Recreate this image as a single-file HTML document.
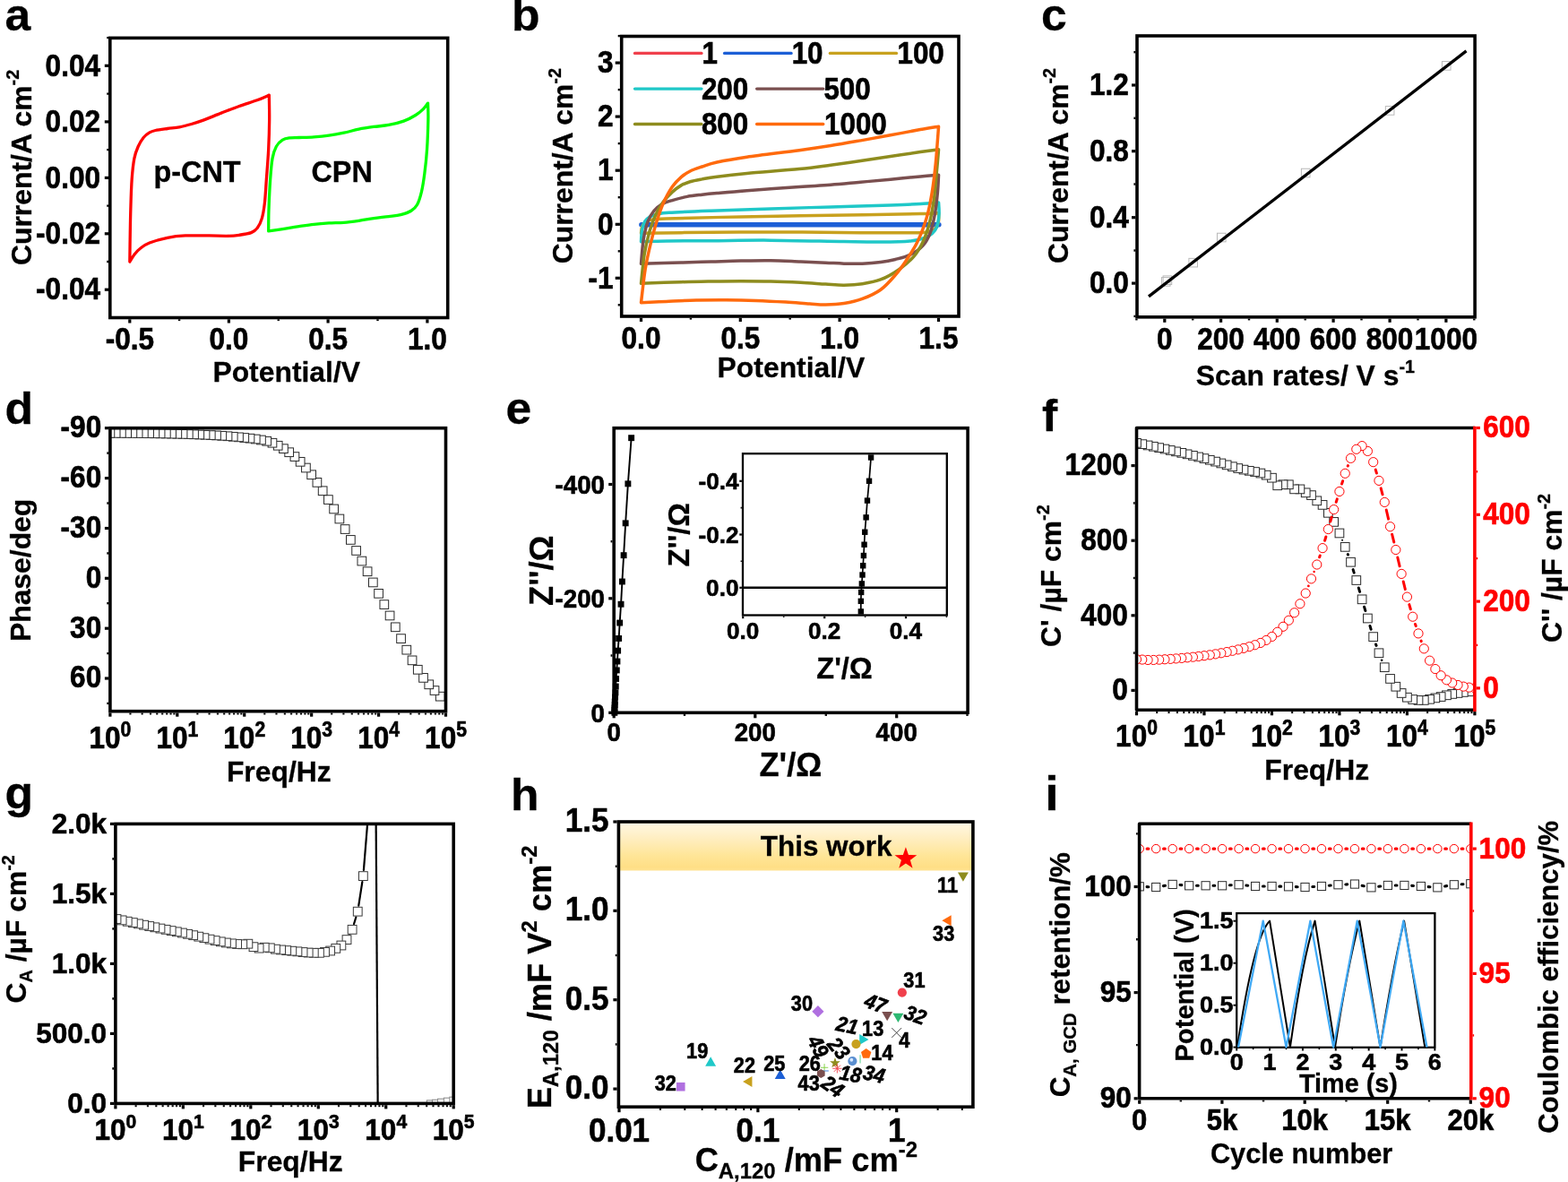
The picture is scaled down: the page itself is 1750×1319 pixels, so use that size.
<!DOCTYPE html>
<html><head><meta charset="utf-8"><title>Figure</title>
<style>html,body{margin:0;padding:0;background:#fff}svg{display:block}text{font-family:"Liberation Sans",Arial,sans-serif}</style>
</head><body>
<svg width="1750" height="1319" viewBox="0 0 1750 1319">
<rect width="1750" height="1319" fill="#fff"/>
<text transform="translate(5.5 34.2) scale(1.0 0.96)" font-size="51.62" text-anchor="start" fill="#000" stroke="#000" stroke-width="0.3" font-weight="bold" >a</text>
<path d="M144.83,292C144.89,287.83 145,276.7 145.17,266.97C145.33,257.24 145.5,244.72 145.83,233.6C146.17,222.48 146.5,209.68 147.17,200.23C147.84,190.77 148.67,182.99 149.84,176.87C151.01,170.75 152.45,167.41 154.18,163.52C155.9,159.63 158.07,156.12 160.18,153.51C162.3,150.89 164.63,149.17 166.86,147.84C169.08,146.5 170.19,146.22 173.53,145.5C176.87,144.78 182.43,144.11 186.88,143.5C191.33,142.89 195.78,142.66 200.23,141.83C204.68,140.99 209.13,139.77 213.58,138.49C218.03,137.21 221.36,136.21 226.93,134.15C232.49,132.1 240.27,128.76 246.95,126.14C253.62,123.53 260.3,120.86 266.97,118.47C273.65,116.08 281.43,113.85 286.99,111.79C292.56,109.74 298.12,107.07 300.34,106.12C300.4,110.68 300.79,123.36 300.68,133.49C300.57,143.61 300.23,155.73 299.68,166.86C299.12,177.98 298.06,190.22 297.34,200.23C296.62,210.24 296.17,219.7 295.34,226.93C294.5,234.16 293.67,239.05 292.33,243.61C291,248.17 289.33,251.62 287.33,254.29C285.33,256.96 283.71,258.29 280.32,259.63C276.93,260.96 271.42,261.69 266.97,262.3C262.52,262.91 259.18,263.19 253.62,263.3C248.06,263.41 241.39,263.02 233.6,262.97C225.81,262.91 214.69,262.58 206.9,262.97C199.12,263.36 193.55,263.97 186.88,265.3C180.21,266.64 171.86,269.03 166.86,270.98C161.85,272.92 159.63,274.87 156.85,276.98C154.06,279.1 152.17,281.15 150.17,283.66C148.17,286.16 145.72,290.61 144.83,292Z" fill="none" stroke="#ff0000" stroke-width="3.3" stroke-linejoin="round" stroke-linecap="round" />
<path d="M299.68,257.96C299.73,253.9 299.68,243.22 300.01,233.6C300.34,223.98 301.01,209.68 301.68,200.23C302.35,190.77 302.9,182.99 304.01,176.87C305.13,170.75 306.46,166.97 308.35,163.52C310.24,160.07 312.8,157.79 315.36,156.18C317.92,154.57 320.64,154.29 323.7,153.84C326.76,153.4 329.26,153.68 333.71,153.51C338.16,153.34 344.84,153.23 350.4,152.84C355.96,152.45 361.52,151.95 367.09,151.17C372.65,150.39 378.21,149.34 383.77,148.17C389.33,147 394.9,145.28 400.46,144.16C406.02,143.05 411.58,142.27 417.14,141.49C422.7,140.72 428.27,140.55 433.83,139.49C439.39,138.44 445.51,136.99 450.51,135.15C455.52,133.32 460.25,130.7 463.86,128.48C467.48,126.26 469.93,124.03 472.21,121.81C474.49,119.58 476.66,116.24 477.55,115.13C477.6,118.19 478.05,124.86 477.88,133.49C477.71,142.11 477.21,156.85 476.54,166.86C475.88,176.87 474.88,185.77 473.87,193.55C472.87,201.34 471.93,207.74 470.54,213.58C469.15,219.42 467.48,224.98 465.53,228.59C463.58,232.21 461.92,233.43 458.86,235.27C455.8,237.1 451.35,238.55 447.18,239.61C443.01,240.66 438.83,240.94 433.83,241.61C428.82,242.28 422.7,242.83 417.14,243.61C411.58,244.39 406.02,245.5 400.46,246.28C394.9,247.06 389.33,247.84 383.77,248.28C378.21,248.73 372.65,248.62 367.09,248.95C361.52,249.28 355.96,249.67 350.4,250.29C344.84,250.9 339.28,251.79 333.71,252.62C328.15,253.46 322.7,254.4 317.03,255.29C311.36,256.18 302.57,257.52 299.68,257.96Z" fill="none" stroke="#00ff00" stroke-width="3.3" stroke-linejoin="round" stroke-linecap="round" />
<rect x="122.8" y="42.4" width="376.9" height="312.1" fill="none" stroke="#000" stroke-width="3.6"/>
<line x1="121" y1="73.3" x2="116.8" y2="73.3" stroke="#000" stroke-width="3.2" />
<line x1="121" y1="135.9" x2="116.8" y2="135.9" stroke="#000" stroke-width="3.2" />
<line x1="121" y1="198.4" x2="116.8" y2="198.4" stroke="#000" stroke-width="3.2" />
<line x1="121" y1="260.8" x2="116.8" y2="260.8" stroke="#000" stroke-width="3.2" />
<line x1="121" y1="323.2" x2="116.8" y2="323.2" stroke="#000" stroke-width="3.2" />
<line x1="121" y1="104.6" x2="119.2" y2="104.6" stroke="#000" stroke-width="2.4" />
<line x1="121" y1="167.15" x2="119.2" y2="167.15" stroke="#000" stroke-width="2.4" />
<line x1="121" y1="229.6" x2="119.2" y2="229.6" stroke="#000" stroke-width="2.4" />
<line x1="121" y1="292" x2="119.2" y2="292" stroke="#000" stroke-width="2.4" />
<line x1="121" y1="42.1" x2="119.2" y2="42.1" stroke="#000" stroke-width="2.4" />
<line x1="144.8" y1="356.3" x2="144.8" y2="360.5" stroke="#000" stroke-width="3.2" />
<line x1="255.4" y1="356.3" x2="255.4" y2="360.5" stroke="#000" stroke-width="3.2" />
<line x1="366.1" y1="356.3" x2="366.1" y2="360.5" stroke="#000" stroke-width="3.2" />
<line x1="476.9" y1="356.3" x2="476.9" y2="360.5" stroke="#000" stroke-width="3.2" />
<line x1="200.1" y1="356.3" x2="200.1" y2="358.1" stroke="#000" stroke-width="2.4" />
<line x1="310.75" y1="356.3" x2="310.75" y2="358.1" stroke="#000" stroke-width="2.4" />
<line x1="421.5" y1="356.3" x2="421.5" y2="358.1" stroke="#000" stroke-width="2.4" />
<text transform="translate(112 84.5) scale(0.98 1.09)" font-size="32.19" text-anchor="end" fill="#000" stroke="#000" stroke-width="0.6" font-weight="bold" >0.04</text>
<text transform="translate(112 147.1) scale(0.98 1.09)" font-size="32.19" text-anchor="end" fill="#000" stroke="#000" stroke-width="0.6" font-weight="bold" >0.02</text>
<text transform="translate(112 209.6) scale(0.98 1.09)" font-size="32.19" text-anchor="end" fill="#000" stroke="#000" stroke-width="0.6" font-weight="bold" >0.00</text>
<text transform="translate(112 272) scale(0.98 1.09)" font-size="32.19" text-anchor="end" fill="#000" stroke="#000" stroke-width="0.6" font-weight="bold" >-0.02</text>
<text transform="translate(112 334.4) scale(0.98 1.09)" font-size="32.19" text-anchor="end" fill="#000" stroke="#000" stroke-width="0.6" font-weight="bold" >-0.04</text>
<text transform="translate(144.8 389.7) scale(0.98 1.09)" font-size="32.19" text-anchor="middle" fill="#000" stroke="#000" stroke-width="0.6" font-weight="bold" >-0.5</text>
<text transform="translate(255.4 389.7) scale(0.98 1.09)" font-size="32.19" text-anchor="middle" fill="#000" stroke="#000" stroke-width="0.6" font-weight="bold" >0.0</text>
<text transform="translate(366.1 389.7) scale(0.98 1.09)" font-size="32.19" text-anchor="middle" fill="#000" stroke="#000" stroke-width="0.6" font-weight="bold" >0.5</text>
<text transform="translate(476.9 389.7) scale(0.98 1.09)" font-size="32.19" text-anchor="middle" fill="#000" stroke="#000" stroke-width="0.6" font-weight="bold" >1.0</text>
<text transform="translate(319.7 425.5) scale(0.99 1.0)" font-size="32.19" text-anchor="middle" fill="#000" stroke="#000" stroke-width="0.3" font-weight="bold" >Potential/V</text>
<text transform="translate(34.6 186.9) rotate(-90) scale(0.99 1.0)" font-size="32.19" text-anchor="middle" fill="#000" stroke="#000" stroke-width="0.3" font-weight="bold" >Current/A cm<tspan font-size="19.96" dy="-13.52">-2</tspan><tspan dy="13.52" font-size="32.19">&#8203;</tspan></text>
<text transform="translate(220 202.6) scale(0.99 1.0)" font-size="32.75" text-anchor="middle" fill="#000" stroke="#000" stroke-width="0.3" font-weight="bold" >p-CNT</text>
<text transform="translate(381.6 202.6) scale(0.99 1.0)" font-size="32.75" text-anchor="middle" fill="#000" stroke="#000" stroke-width="0.3" font-weight="bold" >CPN</text>
<text transform="translate(571 34.2) scale(1.0 0.96)" font-size="51.62" text-anchor="start" fill="#000" stroke="#000" stroke-width="0.3" font-weight="bold" >b</text>
<line x1="708.5" y1="59.4" x2="782.92" y2="59.4" stroke="#f0404c" stroke-width="3.4" stroke-linecap="round"/>
<text transform="translate(783.59 70.8) scale(0.98 1.09)" font-size="31.97" text-anchor="start" fill="#000" stroke="#000" stroke-width="0.6" font-weight="bold" >1</text>
<line x1="808.62" y1="59.4" x2="883.04" y2="59.4" stroke="#1c5fd6" stroke-width="3.4" stroke-linecap="round"/>
<text transform="translate(883.7 70.8) scale(0.98 1.09)" font-size="31.97" text-anchor="start" fill="#000" stroke="#000" stroke-width="0.6" font-weight="bold" >10</text>
<line x1="926.42" y1="59.4" x2="1000.5" y2="59.4" stroke="#c8a11e" stroke-width="3.4" stroke-linecap="round"/>
<text transform="translate(1001.5 70.8) scale(0.98 1.09)" font-size="31.97" text-anchor="start" fill="#000" stroke="#000" stroke-width="0.6" font-weight="bold" >100</text>
<line x1="708.5" y1="99.1" x2="782.92" y2="99.1" stroke="#1fc8c8" stroke-width="3.4" stroke-linecap="round"/>
<text transform="translate(782.92 110.5) scale(0.98 1.09)" font-size="31.97" text-anchor="start" fill="#000" stroke="#000" stroke-width="0.6" font-weight="bold" >200</text>
<line x1="844.66" y1="99.1" x2="918.74" y2="99.1" stroke="#7a4f4f" stroke-width="3.4" stroke-linecap="round"/>
<text transform="translate(919.41 110.5) scale(0.98 1.09)" font-size="31.97" text-anchor="start" fill="#000" stroke="#000" stroke-width="0.6" font-weight="bold" >500</text>
<line x1="708.5" y1="138.5" x2="782.92" y2="138.5" stroke="#8e8c1e" stroke-width="3.4" stroke-linecap="round"/>
<text transform="translate(782.92 149.9) scale(0.98 1.09)" font-size="31.97" text-anchor="start" fill="#000" stroke="#000" stroke-width="0.6" font-weight="bold" >800</text>
<line x1="844.66" y1="138.5" x2="918.74" y2="138.5" stroke="#ff6a0d" stroke-width="3.4" stroke-linecap="round"/>
<text transform="translate(920.08 149.9) scale(0.98 1.09)" font-size="31.97" text-anchor="start" fill="#000" stroke="#000" stroke-width="0.6" font-weight="bold" >1000</text>
<line x1="715.51" y1="250.4" x2="1047.89" y2="250.4" stroke="#f0404c" stroke-width="2.6" />
<line x1="715.84" y1="250.7" x2="1047.89" y2="250.7" stroke="#1c5fd6" stroke-width="5.4" stroke-linecap="round"/>
<path d="M715.51,260.3C715.68,259.18 715.73,255.74 716.51,253.62C717.29,251.51 718.46,249.01 720.18,247.62C721.91,246.23 722.96,245.89 726.86,245.28C730.75,244.67 726.86,244.5 743.54,243.95C760.23,243.39 796.38,242.55 826.97,241.94C857.56,241.33 893.71,240.83 927.09,240.27C960.46,239.72 1007.12,239.05 1027.2,238.61C1047.28,238.16 1044.16,237.77 1047.56,237.6C1047.53,239.25 1048.1,244.47 1047.39,247.48C1046.68,250.49 1045.19,253.78 1043.32,255.66C1041.44,257.53 1040.07,258.04 1036.14,258.73C1032.22,259.41 1032.37,259.61 1019.76,259.76C1007.14,259.91 987.08,259.76 960.46,259.63C933.83,259.5 893.38,258.96 860.01,258.96C826.64,258.96 784.31,259.41 760.23,259.63C736.15,259.85 722.96,260.19 715.51,260.3Z" fill="none" stroke="#c8a11e" stroke-width="3.5" stroke-linejoin="round" stroke-linecap="round" />
<path d="M715.51,269.64C715.68,267.53 715.79,260.74 716.51,256.96C717.24,253.18 718.4,249.45 719.85,246.95C721.3,244.45 722.91,243.28 725.19,241.94C727.47,240.61 729.92,239.72 733.53,238.94C737.15,238.16 736.87,237.88 746.88,237.27C756.89,236.66 774.69,235.99 793.6,235.27C812.51,234.55 838.1,233.66 860.34,232.93C882.59,232.21 904.84,231.6 927.09,230.93C949.33,230.26 977.14,229.48 993.83,228.93C1010.51,228.37 1018.25,228.09 1027.2,227.59C1036.15,227.09 1044.16,226.2 1047.56,225.92C1047.63,228.15 1048.39,234.66 1048.02,239.27C1047.66,243.89 1046.66,250.04 1045.35,253.62C1044.05,257.2 1042.43,258.78 1040.21,260.76C1038,262.74 1036.13,264.13 1032.04,265.5C1027.95,266.87 1023.85,268.22 1015.65,268.97C1007.46,269.72 995.17,269.91 982.88,270.01C970.6,270.11 962.41,269.89 941.94,269.57C921.46,269.26 884.73,268.3 860.01,268.14C835.29,267.98 813.01,268.5 793.6,268.64C774.19,268.78 756.56,268.81 743.54,268.97C730.53,269.14 720.18,269.53 715.51,269.64Z" fill="none" stroke="#1fc8c8" stroke-width="3.5" stroke-linejoin="round" stroke-linecap="round" />
<path d="M715.51,294.34C715.96,289.78 716.9,274.87 718.18,266.97C719.46,259.07 721.24,252.23 723.19,246.95C725.13,241.66 727.3,238.44 729.86,235.27C732.42,232.1 735.14,229.88 738.54,227.93C741.93,225.97 745.5,224.98 750.22,223.56C754.94,222.13 761.31,220.44 766.87,219.38C772.43,218.33 777.99,217.85 783.56,217.21C789.12,216.58 791.9,216.3 800.24,215.55C808.58,214.8 818.32,213.88 833.61,212.71C848.91,211.54 876.43,209.62 892.01,208.54C907.59,207.46 915.68,207.12 927.09,206.24C938.49,205.35 949.33,204.23 960.46,203.23C971.58,202.23 982.7,201.29 993.83,200.23C1004.95,199.17 1018.25,197.73 1027.2,196.89C1036.15,196.06 1044.16,195.5 1047.56,195.22C1047.36,198.47 1047.09,207.37 1046.39,214.71C1045.68,222.05 1044.69,231.76 1043.32,239.27C1041.95,246.78 1040.4,253.96 1038.18,259.76C1035.96,265.56 1033.76,269.99 1030,274.08C1026.25,278.17 1020.78,281.76 1015.65,284.32C1010.53,286.89 1004.73,288.1 999.27,289.46C993.81,290.83 989.02,291.75 982.88,292.53C976.74,293.32 969.25,293.9 962.43,294.17C955.6,294.44 948.77,294.34 941.94,294.17C935.11,294 929.48,293.5 921.45,293.13C913.41,292.77 903.95,292.41 893.71,292C883.47,291.59 871.13,290.83 860.01,290.67C848.89,290.5 838.04,290.78 826.97,291C815.9,291.22 804.72,291.67 793.6,292C782.48,292.33 773.24,292.61 760.23,293C747.21,293.39 722.96,294.11 715.51,294.34Z" fill="none" stroke="#7a4f4f" stroke-width="3.5" stroke-linejoin="round" stroke-linecap="round" />
<path d="M715.51,316.36C716.12,310.91 717.62,293.28 719.18,283.66C720.74,274.04 722.8,265.86 724.85,258.63C726.91,251.4 728.97,245.84 731.53,240.27C734.09,234.71 737.1,229.57 740.21,225.26C743.31,220.94 746.85,217.44 750.18,214.38C753.52,211.31 756.86,208.82 760.2,206.87C763.53,204.92 766.31,203.87 770.21,202.7C774.1,201.53 778.55,200.78 783.56,199.86C788.56,198.94 791.9,198.25 800.24,197.19C808.58,196.14 818.32,194.97 833.61,193.52C848.91,192.07 876.43,190.07 892.01,188.52C907.59,186.96 915.68,185.71 927.09,184.21C938.49,182.71 949.33,181.15 960.46,179.54C971.58,177.93 982.7,176.2 993.83,174.53C1004.95,172.86 1018.25,170.81 1027.2,169.53C1036.15,168.25 1044.16,167.3 1047.56,166.86C1047.19,171.08 1046.23,182.85 1045.35,192.19C1044.48,201.52 1043.65,213.33 1042.28,222.89C1040.92,232.44 1039.22,241.66 1037.18,249.52C1035.13,257.37 1032.91,263.86 1030,270.01C1027.1,276.15 1024.2,281.28 1019.76,286.39C1015.32,291.51 1009.52,296.44 1003.37,300.71C997.23,304.98 989.71,309.33 982.88,311.99C976.06,314.65 969.25,315.67 962.43,316.69C955.6,317.72 948.77,318.06 941.94,318.13C935.11,318.2 929.48,317.56 921.45,317.1C913.41,316.63 903.95,315.87 893.71,315.36C883.47,314.85 871.13,314.3 860.01,314.03C848.89,313.75 838.04,313.69 826.97,313.69C815.9,313.69 804.72,313.86 793.6,314.03C782.48,314.19 773.24,314.3 760.23,314.69C747.21,315.08 722.96,316.08 715.51,316.36Z" fill="none" stroke="#8e8c1e" stroke-width="3.5" stroke-linejoin="round" stroke-linecap="round" />
<path d="M715.51,337.72C716.29,331.49 718.35,311.58 720.18,300.34C722.02,289.11 724.3,279.49 726.52,270.31C728.75,261.13 731.25,252.51 733.53,245.28C735.81,238.05 737.42,233.04 740.21,226.93C742.99,220.81 746.88,213.44 750.22,208.57C753.55,203.7 756.89,200.62 760.23,197.69C763.57,194.76 766.36,192.93 770.24,190.98C774.12,189.04 778.53,187.68 783.52,186.01C788.52,184.35 791.86,182.81 800.21,181.01C808.56,179.2 818.31,177.42 833.61,175.2C848.91,172.98 876.43,169.8 892.01,167.69C907.59,165.58 915.68,164.33 927.09,162.52C938.49,160.71 949.33,158.79 960.46,156.85C971.58,154.9 982.7,152.9 993.83,150.84C1004.95,148.78 1018.25,146.11 1027.2,144.5C1036.15,142.89 1044.16,141.72 1047.56,141.16C1047.02,147.95 1045.54,169.65 1044.32,181.91C1043.1,194.17 1041.92,204.47 1040.21,214.71C1038.51,224.95 1036.83,234.13 1034.11,243.34C1031.38,252.55 1027.63,262.12 1023.86,269.97C1020.1,277.83 1015.6,284.32 1011.52,290.46C1007.43,296.61 1004.1,301.39 999.33,306.85C994.57,312.31 989.1,318.8 982.95,323.24C976.8,327.67 969.29,330.92 962.46,333.48C955.63,336.04 948.8,337.5 941.97,338.59C935.14,339.68 927.85,339.94 921.48,340.02C915.11,340.1 911.13,339.55 903.73,339.05C896.32,338.56 887.04,337.66 877.03,337.05C867.02,336.44 854.78,335.77 843.66,335.38C832.53,334.99 821.41,334.77 810.29,334.72C799.16,334.66 788.04,334.77 776.91,335.05C765.79,335.33 753.78,335.94 743.54,336.38C733.31,336.83 720.18,337.5 715.51,337.72Z" fill="none" stroke="#ff6a0d" stroke-width="3.5" stroke-linejoin="round" stroke-linecap="round" />
<rect x="693.7" y="40.5" width="376.3" height="312.5" fill="none" stroke="#000" stroke-width="3.6"/>
<line x1="691.9" y1="70.1" x2="686.7" y2="70.1" stroke="#000" stroke-width="3.2" />
<line x1="691.9" y1="130.1" x2="686.7" y2="130.1" stroke="#000" stroke-width="3.2" />
<line x1="691.9" y1="190.2" x2="686.7" y2="190.2" stroke="#000" stroke-width="3.2" />
<line x1="691.9" y1="250.3" x2="686.7" y2="250.3" stroke="#000" stroke-width="3.2" />
<line x1="691.9" y1="310.3" x2="686.7" y2="310.3" stroke="#000" stroke-width="3.2" />
<line x1="691.9" y1="100.1" x2="689.7" y2="100.1" stroke="#000" stroke-width="2.4" />
<line x1="691.9" y1="160.1" x2="689.7" y2="160.1" stroke="#000" stroke-width="2.4" />
<line x1="691.9" y1="220.2" x2="689.7" y2="220.2" stroke="#000" stroke-width="2.4" />
<line x1="691.9" y1="280.3" x2="689.7" y2="280.3" stroke="#000" stroke-width="2.4" />
<line x1="691.9" y1="340.3" x2="689.7" y2="340.3" stroke="#000" stroke-width="2.4" />
<line x1="691.9" y1="40.1" x2="689.7" y2="40.1" stroke="#000" stroke-width="2.4" />
<line x1="715.5" y1="354.8" x2="715.5" y2="359" stroke="#000" stroke-width="3.2" />
<line x1="826.3" y1="354.8" x2="826.3" y2="359" stroke="#000" stroke-width="3.2" />
<line x1="937.1" y1="354.8" x2="937.1" y2="359" stroke="#000" stroke-width="3.2" />
<line x1="1047.5" y1="354.8" x2="1047.5" y2="359" stroke="#000" stroke-width="3.2" />
<line x1="770.9" y1="354.8" x2="770.9" y2="356.6" stroke="#000" stroke-width="2.4" />
<line x1="881.7" y1="354.8" x2="881.7" y2="356.6" stroke="#000" stroke-width="2.4" />
<line x1="992.3" y1="354.8" x2="992.3" y2="356.6" stroke="#000" stroke-width="2.4" />
<text transform="translate(684.5 81.3) scale(0.98 1.09)" font-size="32.19" text-anchor="end" fill="#000" stroke="#000" stroke-width="0.6" font-weight="bold" >3</text>
<text transform="translate(684.5 141.3) scale(0.98 1.09)" font-size="32.19" text-anchor="end" fill="#000" stroke="#000" stroke-width="0.6" font-weight="bold" >2</text>
<text transform="translate(684.5 201.4) scale(0.98 1.09)" font-size="32.19" text-anchor="end" fill="#000" stroke="#000" stroke-width="0.6" font-weight="bold" >1</text>
<text transform="translate(684.5 261.5) scale(0.98 1.09)" font-size="32.19" text-anchor="end" fill="#000" stroke="#000" stroke-width="0.6" font-weight="bold" >0</text>
<text transform="translate(684.5 321.5) scale(0.98 1.09)" font-size="32.19" text-anchor="end" fill="#000" stroke="#000" stroke-width="0.6" font-weight="bold" >-1</text>
<text transform="translate(715.5 388.7) scale(0.98 1.09)" font-size="32.19" text-anchor="middle" fill="#000" stroke="#000" stroke-width="0.6" font-weight="bold" >0.0</text>
<text transform="translate(826.3 388.7) scale(0.98 1.09)" font-size="32.19" text-anchor="middle" fill="#000" stroke="#000" stroke-width="0.6" font-weight="bold" >0.5</text>
<text transform="translate(937.1 388.7) scale(0.98 1.09)" font-size="32.19" text-anchor="middle" fill="#000" stroke="#000" stroke-width="0.6" font-weight="bold" >1.0</text>
<text transform="translate(1047.5 388.7) scale(0.98 1.09)" font-size="32.19" text-anchor="middle" fill="#000" stroke="#000" stroke-width="0.6" font-weight="bold" >1.5</text>
<text transform="translate(882.9 420.5) scale(0.99 1.0)" font-size="32.19" text-anchor="middle" fill="#000" stroke="#000" stroke-width="0.3" font-weight="bold" >Potential/V</text>
<text transform="translate(639.4 185.2) rotate(-90) scale(0.99 1.0)" font-size="32.19" text-anchor="middle" fill="#000" stroke="#000" stroke-width="0.3" font-weight="bold" >Current/A cm<tspan font-size="19.96" dy="-13.52">-2</tspan><tspan dy="13.52" font-size="32.19">&#8203;</tspan></text>
<text transform="translate(1162 34.2) scale(1.0 0.96)" font-size="51.62" text-anchor="start" fill="#000" stroke="#000" stroke-width="0.3" font-weight="bold" >c</text>
<rect x="1296.4" y="309.6" width="9.6" height="9.6" fill="none" stroke="#b8b8b8" stroke-width="1"/>
<rect x="1298.11" y="307.89" width="9.6" height="9.6" fill="none" stroke="#b8b8b8" stroke-width="1"/>
<rect x="1326.91" y="288.34" width="9.6" height="9.6" fill="none" stroke="#b8b8b8" stroke-width="1"/>
<rect x="1358.46" y="260.23" width="9.6" height="9.6" fill="none" stroke="#b8b8b8" stroke-width="1"/>
<rect x="1452.4" y="188.23" width="9.6" height="9.6" fill="none" stroke="#b8b8b8" stroke-width="1"/>
<rect x="1546.34" y="118.63" width="9.6" height="9.6" fill="none" stroke="#b8b8b8" stroke-width="1"/>
<rect x="1609.43" y="68.57" width="9.6" height="9.6" fill="none" stroke="#b8b8b8" stroke-width="1"/>
<line x1="1282" y1="330.86" x2="1636.51" y2="56.91" stroke="#000" stroke-width="3.3" />
<rect x="1269" y="40" width="377.1" height="313.8" fill="none" stroke="#000" stroke-width="3.6"/>
<line x1="1267.2" y1="95" x2="1263" y2="95" stroke="#000" stroke-width="3.2" />
<line x1="1267.2" y1="168.7" x2="1263" y2="168.7" stroke="#000" stroke-width="3.2" />
<line x1="1267.2" y1="242.7" x2="1263" y2="242.7" stroke="#000" stroke-width="3.2" />
<line x1="1267.2" y1="316.1" x2="1263" y2="316.1" stroke="#000" stroke-width="3.2" />
<line x1="1267.2" y1="131.8" x2="1265.4" y2="131.8" stroke="#000" stroke-width="2.4" />
<line x1="1267.2" y1="205.5" x2="1265.4" y2="205.5" stroke="#000" stroke-width="2.4" />
<line x1="1267.2" y1="279.5" x2="1265.4" y2="279.5" stroke="#000" stroke-width="2.4" />
<line x1="1267.2" y1="352.9" x2="1265.4" y2="352.9" stroke="#000" stroke-width="2.4" />
<line x1="1267.2" y1="58.2" x2="1265.4" y2="58.2" stroke="#000" stroke-width="2.4" />
<line x1="1299.8" y1="355.6" x2="1299.8" y2="359.8" stroke="#000" stroke-width="3.2" />
<line x1="1362.6" y1="355.6" x2="1362.6" y2="359.8" stroke="#000" stroke-width="3.2" />
<line x1="1425.3" y1="355.6" x2="1425.3" y2="359.8" stroke="#000" stroke-width="3.2" />
<line x1="1488.1" y1="355.6" x2="1488.1" y2="359.8" stroke="#000" stroke-width="3.2" />
<line x1="1551.1" y1="355.6" x2="1551.1" y2="359.8" stroke="#000" stroke-width="3.2" />
<line x1="1613.9" y1="355.6" x2="1613.9" y2="359.8" stroke="#000" stroke-width="3.2" />
<line x1="1331.2" y1="355.6" x2="1331.2" y2="357.4" stroke="#000" stroke-width="2.4" />
<line x1="1394" y1="355.6" x2="1394" y2="357.4" stroke="#000" stroke-width="2.4" />
<line x1="1456.7" y1="355.6" x2="1456.7" y2="357.4" stroke="#000" stroke-width="2.4" />
<line x1="1519.5" y1="355.6" x2="1519.5" y2="357.4" stroke="#000" stroke-width="2.4" />
<line x1="1582.5" y1="355.6" x2="1582.5" y2="357.4" stroke="#000" stroke-width="2.4" />
<line x1="1268.4" y1="355.6" x2="1268.4" y2="357.4" stroke="#000" stroke-width="2.4" />
<line x1="1645.3" y1="355.6" x2="1645.3" y2="357.4" stroke="#000" stroke-width="2.4" />
<text transform="translate(1259.8 106.2) scale(0.98 1.09)" font-size="32.19" text-anchor="end" fill="#000" stroke="#000" stroke-width="0.6" font-weight="bold" >1.2</text>
<text transform="translate(1259.8 179.9) scale(0.98 1.09)" font-size="32.19" text-anchor="end" fill="#000" stroke="#000" stroke-width="0.6" font-weight="bold" >0.8</text>
<text transform="translate(1259.8 253.9) scale(0.98 1.09)" font-size="32.19" text-anchor="end" fill="#000" stroke="#000" stroke-width="0.6" font-weight="bold" >0.4</text>
<text transform="translate(1259.8 327.3) scale(0.98 1.09)" font-size="32.19" text-anchor="end" fill="#000" stroke="#000" stroke-width="0.6" font-weight="bold" >0.0</text>
<text transform="translate(1299.8 389.5) scale(0.98 1.09)" font-size="32.19" text-anchor="middle" fill="#000" stroke="#000" stroke-width="0.6" font-weight="bold" >0</text>
<text transform="translate(1362.6 389.5) scale(0.98 1.09)" font-size="32.19" text-anchor="middle" fill="#000" stroke="#000" stroke-width="0.6" font-weight="bold" >200</text>
<text transform="translate(1425.3 389.5) scale(0.98 1.09)" font-size="32.19" text-anchor="middle" fill="#000" stroke="#000" stroke-width="0.6" font-weight="bold" >400</text>
<text transform="translate(1488.1 389.5) scale(0.98 1.09)" font-size="32.19" text-anchor="middle" fill="#000" stroke="#000" stroke-width="0.6" font-weight="bold" >600</text>
<text transform="translate(1551.1 389.5) scale(0.98 1.09)" font-size="32.19" text-anchor="middle" fill="#000" stroke="#000" stroke-width="0.6" font-weight="bold" >800</text>
<text transform="translate(1613.9 389.5) scale(0.98 1.09)" font-size="32.19" text-anchor="middle" fill="#000" stroke="#000" stroke-width="0.6" font-weight="bold" >1000</text>
<text transform="translate(1456.9 429.6) scale(0.99 1.0)" font-size="32.19" text-anchor="middle" fill="#000" stroke="#000" stroke-width="0.3" font-weight="bold" >Scan rates/ V s<tspan font-size="19.96" dy="-13.52">-1</tspan><tspan dy="13.52" font-size="32.19">&#8203;</tspan></text>
<text transform="translate(1191.8 185) rotate(-90) scale(0.99 1.0)" font-size="32.19" text-anchor="middle" fill="#000" stroke="#000" stroke-width="0.3" font-weight="bold" >Current/A cm<tspan font-size="19.96" dy="-13.52">-2</tspan><tspan dy="13.52" font-size="32.19">&#8203;</tspan></text>
<text transform="translate(5.5 473) scale(1.0 0.96)" font-size="51.62" text-anchor="start" fill="#000" stroke="#000" stroke-width="0.3" font-weight="bold" >d</text>
<clipPath id="cd"><rect x="122.9" y="477.7" width="374.6" height="316.00000000000006"/></clipPath><g clip-path="url(#cd)">
<rect x="486.41" y="772.31" width="9.7" height="9.7" fill="#fff" stroke="#2a2a2a" stroke-width="1"/>
<rect x="480.16" y="765.69" width="9.7" height="9.7" fill="#fff" stroke="#2a2a2a" stroke-width="1"/>
<rect x="473.92" y="758.96" width="9.7" height="9.7" fill="#fff" stroke="#2a2a2a" stroke-width="1"/>
<rect x="467.68" y="751.53" width="9.7" height="9.7" fill="#fff" stroke="#2a2a2a" stroke-width="1"/>
<rect x="461.43" y="742.43" width="9.7" height="9.7" fill="#fff" stroke="#2a2a2a" stroke-width="1"/>
<rect x="455.19" y="732.01" width="9.7" height="9.7" fill="#fff" stroke="#2a2a2a" stroke-width="1"/>
<rect x="448.95" y="720.32" width="9.7" height="9.7" fill="#fff" stroke="#2a2a2a" stroke-width="1"/>
<rect x="442.7" y="707.77" width="9.7" height="9.7" fill="#fff" stroke="#2a2a2a" stroke-width="1"/>
<rect x="436.46" y="694.96" width="9.7" height="9.7" fill="#fff" stroke="#2a2a2a" stroke-width="1"/>
<rect x="430.22" y="682.11" width="9.7" height="9.7" fill="#fff" stroke="#2a2a2a" stroke-width="1"/>
<rect x="423.97" y="669.74" width="9.7" height="9.7" fill="#fff" stroke="#2a2a2a" stroke-width="1"/>
<rect x="417.73" y="657.49" width="9.7" height="9.7" fill="#fff" stroke="#2a2a2a" stroke-width="1"/>
<rect x="411.49" y="645.09" width="9.7" height="9.7" fill="#fff" stroke="#2a2a2a" stroke-width="1"/>
<rect x="405.24" y="632.88" width="9.7" height="9.7" fill="#fff" stroke="#2a2a2a" stroke-width="1"/>
<rect x="399" y="621.21" width="9.7" height="9.7" fill="#fff" stroke="#2a2a2a" stroke-width="1"/>
<rect x="392.76" y="609.6" width="9.7" height="9.7" fill="#fff" stroke="#2a2a2a" stroke-width="1"/>
<rect x="386.51" y="597.58" width="9.7" height="9.7" fill="#fff" stroke="#2a2a2a" stroke-width="1"/>
<rect x="380.27" y="585.68" width="9.7" height="9.7" fill="#fff" stroke="#2a2a2a" stroke-width="1"/>
<rect x="374.03" y="574.15" width="9.7" height="9.7" fill="#fff" stroke="#2a2a2a" stroke-width="1"/>
<rect x="367.78" y="563.11" width="9.7" height="9.7" fill="#fff" stroke="#2a2a2a" stroke-width="1"/>
<rect x="361.54" y="552.72" width="9.7" height="9.7" fill="#fff" stroke="#2a2a2a" stroke-width="1"/>
<rect x="355.3" y="542.89" width="9.7" height="9.7" fill="#fff" stroke="#2a2a2a" stroke-width="1"/>
<rect x="349.05" y="533.51" width="9.7" height="9.7" fill="#fff" stroke="#2a2a2a" stroke-width="1"/>
<rect x="342.81" y="524.9" width="9.7" height="9.7" fill="#fff" stroke="#2a2a2a" stroke-width="1"/>
<rect x="336.57" y="517.18" width="9.7" height="9.7" fill="#fff" stroke="#2a2a2a" stroke-width="1"/>
<rect x="330.32" y="510.46" width="9.7" height="9.7" fill="#fff" stroke="#2a2a2a" stroke-width="1"/>
<rect x="324.08" y="504.72" width="9.7" height="9.7" fill="#fff" stroke="#2a2a2a" stroke-width="1"/>
<rect x="317.84" y="499.87" width="9.7" height="9.7" fill="#fff" stroke="#2a2a2a" stroke-width="1"/>
<rect x="311.59" y="495.81" width="9.7" height="9.7" fill="#fff" stroke="#2a2a2a" stroke-width="1"/>
<rect x="305.35" y="492.41" width="9.7" height="9.7" fill="#fff" stroke="#2a2a2a" stroke-width="1"/>
<rect x="299.11" y="489.39" width="9.7" height="9.7" fill="#fff" stroke="#2a2a2a" stroke-width="1"/>
<rect x="292.86" y="487.4" width="9.7" height="9.7" fill="#fff" stroke="#2a2a2a" stroke-width="1"/>
<rect x="286.62" y="486.14" width="9.7" height="9.7" fill="#fff" stroke="#2a2a2a" stroke-width="1"/>
<rect x="280.38" y="485.14" width="9.7" height="9.7" fill="#fff" stroke="#2a2a2a" stroke-width="1"/>
<rect x="274.13" y="484.33" width="9.7" height="9.7" fill="#fff" stroke="#2a2a2a" stroke-width="1"/>
<rect x="267.89" y="483.64" width="9.7" height="9.7" fill="#fff" stroke="#2a2a2a" stroke-width="1"/>
<rect x="261.65" y="483" width="9.7" height="9.7" fill="#fff" stroke="#2a2a2a" stroke-width="1"/>
<rect x="255.4" y="482.43" width="9.7" height="9.7" fill="#fff" stroke="#2a2a2a" stroke-width="1"/>
<rect x="249.16" y="481.91" width="9.7" height="9.7" fill="#fff" stroke="#2a2a2a" stroke-width="1"/>
<rect x="242.92" y="481.46" width="9.7" height="9.7" fill="#fff" stroke="#2a2a2a" stroke-width="1"/>
<rect x="236.67" y="481.08" width="9.7" height="9.7" fill="#fff" stroke="#2a2a2a" stroke-width="1"/>
<rect x="230.43" y="480.74" width="9.7" height="9.7" fill="#fff" stroke="#2a2a2a" stroke-width="1"/>
<rect x="224.19" y="480.44" width="9.7" height="9.7" fill="#fff" stroke="#2a2a2a" stroke-width="1"/>
<rect x="217.94" y="480.17" width="9.7" height="9.7" fill="#fff" stroke="#2a2a2a" stroke-width="1"/>
<rect x="211.7" y="479.93" width="9.7" height="9.7" fill="#fff" stroke="#2a2a2a" stroke-width="1"/>
<rect x="205.46" y="479.72" width="9.7" height="9.7" fill="#fff" stroke="#2a2a2a" stroke-width="1"/>
<rect x="199.21" y="479.54" width="9.7" height="9.7" fill="#fff" stroke="#2a2a2a" stroke-width="1"/>
<rect x="192.97" y="479.38" width="9.7" height="9.7" fill="#fff" stroke="#2a2a2a" stroke-width="1"/>
<rect x="186.73" y="479.24" width="9.7" height="9.7" fill="#fff" stroke="#2a2a2a" stroke-width="1"/>
<rect x="180.48" y="479.11" width="9.7" height="9.7" fill="#fff" stroke="#2a2a2a" stroke-width="1"/>
<rect x="174.24" y="479" width="9.7" height="9.7" fill="#fff" stroke="#2a2a2a" stroke-width="1"/>
<rect x="168" y="478.9" width="9.7" height="9.7" fill="#fff" stroke="#2a2a2a" stroke-width="1"/>
<rect x="161.75" y="478.83" width="9.7" height="9.7" fill="#fff" stroke="#2a2a2a" stroke-width="1"/>
<rect x="155.51" y="478.76" width="9.7" height="9.7" fill="#fff" stroke="#2a2a2a" stroke-width="1"/>
<rect x="149.27" y="478.69" width="9.7" height="9.7" fill="#fff" stroke="#2a2a2a" stroke-width="1"/>
<rect x="143.02" y="478.64" width="9.7" height="9.7" fill="#fff" stroke="#2a2a2a" stroke-width="1"/>
<rect x="136.78" y="478.59" width="9.7" height="9.7" fill="#fff" stroke="#2a2a2a" stroke-width="1"/>
<rect x="130.54" y="478.55" width="9.7" height="9.7" fill="#fff" stroke="#2a2a2a" stroke-width="1"/>
<rect x="124.29" y="478.54" width="9.7" height="9.7" fill="#fff" stroke="#2a2a2a" stroke-width="1"/>
<rect x="118.05" y="478.54" width="9.7" height="9.7" fill="#fff" stroke="#2a2a2a" stroke-width="1"/>
</g>
<rect x="122.9" y="477.7" width="374.6" height="316" fill="none" stroke="#000" stroke-width="3.6"/>
<line x1="121.1" y1="477.7" x2="116.9" y2="477.7" stroke="#000" stroke-width="3.2" />
<line x1="121.1" y1="533.6" x2="116.9" y2="533.6" stroke="#000" stroke-width="3.2" />
<line x1="121.1" y1="589.5" x2="116.9" y2="589.5" stroke="#000" stroke-width="3.2" />
<line x1="121.1" y1="645.3" x2="116.9" y2="645.3" stroke="#000" stroke-width="3.2" />
<line x1="121.1" y1="701.2" x2="116.9" y2="701.2" stroke="#000" stroke-width="3.2" />
<line x1="121.1" y1="757" x2="116.9" y2="757" stroke="#000" stroke-width="3.2" />
<line x1="121.1" y1="505.6" x2="119.3" y2="505.6" stroke="#000" stroke-width="2.4" />
<line x1="121.1" y1="561.5" x2="119.3" y2="561.5" stroke="#000" stroke-width="2.4" />
<line x1="121.1" y1="617.4" x2="119.3" y2="617.4" stroke="#000" stroke-width="2.4" />
<line x1="121.1" y1="673.2" x2="119.3" y2="673.2" stroke="#000" stroke-width="2.4" />
<line x1="121.1" y1="729.1" x2="119.3" y2="729.1" stroke="#000" stroke-width="2.4" />
<line x1="121.1" y1="784.9" x2="119.3" y2="784.9" stroke="#000" stroke-width="2.4" />
<line x1="122.9" y1="795.5" x2="122.9" y2="799.7" stroke="#000" stroke-width="3.2" />
<line x1="197.82" y1="795.5" x2="197.82" y2="799.7" stroke="#000" stroke-width="3.2" />
<line x1="272.74" y1="795.5" x2="272.74" y2="799.7" stroke="#000" stroke-width="3.2" />
<line x1="347.66" y1="795.5" x2="347.66" y2="799.7" stroke="#000" stroke-width="3.2" />
<line x1="422.58" y1="795.5" x2="422.58" y2="799.7" stroke="#000" stroke-width="3.2" />
<line x1="497.5" y1="795.5" x2="497.5" y2="799.7" stroke="#000" stroke-width="3.2" />
<line x1="145.45" y1="795.5" x2="145.45" y2="797.5" stroke="#000" stroke-width="2.1" />
<line x1="158.65" y1="795.5" x2="158.65" y2="797.5" stroke="#000" stroke-width="2.1" />
<line x1="168.01" y1="795.5" x2="168.01" y2="797.5" stroke="#000" stroke-width="2.1" />
<line x1="175.27" y1="795.5" x2="175.27" y2="797.5" stroke="#000" stroke-width="2.1" />
<line x1="181.2" y1="795.5" x2="181.2" y2="797.5" stroke="#000" stroke-width="2.1" />
<line x1="186.21" y1="795.5" x2="186.21" y2="797.5" stroke="#000" stroke-width="2.1" />
<line x1="190.56" y1="795.5" x2="190.56" y2="797.5" stroke="#000" stroke-width="2.1" />
<line x1="194.39" y1="795.5" x2="194.39" y2="797.5" stroke="#000" stroke-width="2.1" />
<line x1="220.37" y1="795.5" x2="220.37" y2="797.5" stroke="#000" stroke-width="2.1" />
<line x1="233.57" y1="795.5" x2="233.57" y2="797.5" stroke="#000" stroke-width="2.1" />
<line x1="242.93" y1="795.5" x2="242.93" y2="797.5" stroke="#000" stroke-width="2.1" />
<line x1="250.19" y1="795.5" x2="250.19" y2="797.5" stroke="#000" stroke-width="2.1" />
<line x1="256.12" y1="795.5" x2="256.12" y2="797.5" stroke="#000" stroke-width="2.1" />
<line x1="261.13" y1="795.5" x2="261.13" y2="797.5" stroke="#000" stroke-width="2.1" />
<line x1="265.48" y1="795.5" x2="265.48" y2="797.5" stroke="#000" stroke-width="2.1" />
<line x1="269.31" y1="795.5" x2="269.31" y2="797.5" stroke="#000" stroke-width="2.1" />
<line x1="295.29" y1="795.5" x2="295.29" y2="797.5" stroke="#000" stroke-width="2.1" />
<line x1="308.49" y1="795.5" x2="308.49" y2="797.5" stroke="#000" stroke-width="2.1" />
<line x1="317.85" y1="795.5" x2="317.85" y2="797.5" stroke="#000" stroke-width="2.1" />
<line x1="325.11" y1="795.5" x2="325.11" y2="797.5" stroke="#000" stroke-width="2.1" />
<line x1="331.04" y1="795.5" x2="331.04" y2="797.5" stroke="#000" stroke-width="2.1" />
<line x1="336.05" y1="795.5" x2="336.05" y2="797.5" stroke="#000" stroke-width="2.1" />
<line x1="340.4" y1="795.5" x2="340.4" y2="797.5" stroke="#000" stroke-width="2.1" />
<line x1="344.23" y1="795.5" x2="344.23" y2="797.5" stroke="#000" stroke-width="2.1" />
<line x1="370.21" y1="795.5" x2="370.21" y2="797.5" stroke="#000" stroke-width="2.1" />
<line x1="383.41" y1="795.5" x2="383.41" y2="797.5" stroke="#000" stroke-width="2.1" />
<line x1="392.77" y1="795.5" x2="392.77" y2="797.5" stroke="#000" stroke-width="2.1" />
<line x1="400.03" y1="795.5" x2="400.03" y2="797.5" stroke="#000" stroke-width="2.1" />
<line x1="405.96" y1="795.5" x2="405.96" y2="797.5" stroke="#000" stroke-width="2.1" />
<line x1="410.97" y1="795.5" x2="410.97" y2="797.5" stroke="#000" stroke-width="2.1" />
<line x1="415.32" y1="795.5" x2="415.32" y2="797.5" stroke="#000" stroke-width="2.1" />
<line x1="419.15" y1="795.5" x2="419.15" y2="797.5" stroke="#000" stroke-width="2.1" />
<line x1="445.13" y1="795.5" x2="445.13" y2="797.5" stroke="#000" stroke-width="2.1" />
<line x1="458.33" y1="795.5" x2="458.33" y2="797.5" stroke="#000" stroke-width="2.1" />
<line x1="467.69" y1="795.5" x2="467.69" y2="797.5" stroke="#000" stroke-width="2.1" />
<line x1="474.95" y1="795.5" x2="474.95" y2="797.5" stroke="#000" stroke-width="2.1" />
<line x1="480.88" y1="795.5" x2="480.88" y2="797.5" stroke="#000" stroke-width="2.1" />
<line x1="485.89" y1="795.5" x2="485.89" y2="797.5" stroke="#000" stroke-width="2.1" />
<line x1="490.24" y1="795.5" x2="490.24" y2="797.5" stroke="#000" stroke-width="2.1" />
<line x1="494.07" y1="795.5" x2="494.07" y2="797.5" stroke="#000" stroke-width="2.1" />
<text transform="translate(113.2 488.1) scale(0.98 1.09)" font-size="32.19" text-anchor="end" fill="#000" stroke="#000" stroke-width="0.6" font-weight="bold" >-90</text>
<text transform="translate(113.2 544) scale(0.98 1.09)" font-size="32.19" text-anchor="end" fill="#000" stroke="#000" stroke-width="0.6" font-weight="bold" >-60</text>
<text transform="translate(113.2 599.9) scale(0.98 1.09)" font-size="32.19" text-anchor="end" fill="#000" stroke="#000" stroke-width="0.6" font-weight="bold" >-30</text>
<text transform="translate(113.2 655.7) scale(0.98 1.09)" font-size="32.19" text-anchor="end" fill="#000" stroke="#000" stroke-width="0.6" font-weight="bold" >0</text>
<text transform="translate(113.2 711.6) scale(0.98 1.09)" font-size="32.19" text-anchor="end" fill="#000" stroke="#000" stroke-width="0.6" font-weight="bold" >30</text>
<text transform="translate(113.2 767.4) scale(0.98 1.09)" font-size="32.19" text-anchor="end" fill="#000" stroke="#000" stroke-width="0.6" font-weight="bold" >60</text>
<text transform="translate(122.9 835.2) scale(0.98 1.09)" font-size="32.19" text-anchor="middle" fill="#000" stroke="#000" stroke-width="0.6" font-weight="bold" >10<tspan font-size="21.57" dy="-12.47">0</tspan><tspan dy="12.47" font-size="32.19">&#8203;</tspan></text>
<text transform="translate(197.82 835.2) scale(0.98 1.09)" font-size="32.19" text-anchor="middle" fill="#000" stroke="#000" stroke-width="0.6" font-weight="bold" >10<tspan font-size="21.57" dy="-12.47">1</tspan><tspan dy="12.47" font-size="32.19">&#8203;</tspan></text>
<text transform="translate(272.74 835.2) scale(0.98 1.09)" font-size="32.19" text-anchor="middle" fill="#000" stroke="#000" stroke-width="0.6" font-weight="bold" >10<tspan font-size="21.57" dy="-12.47">2</tspan><tspan dy="12.47" font-size="32.19">&#8203;</tspan></text>
<text transform="translate(347.66 835.2) scale(0.98 1.09)" font-size="32.19" text-anchor="middle" fill="#000" stroke="#000" stroke-width="0.6" font-weight="bold" >10<tspan font-size="21.57" dy="-12.47">3</tspan><tspan dy="12.47" font-size="32.19">&#8203;</tspan></text>
<text transform="translate(422.58 835.2) scale(0.98 1.09)" font-size="32.19" text-anchor="middle" fill="#000" stroke="#000" stroke-width="0.6" font-weight="bold" >10<tspan font-size="21.57" dy="-12.47">4</tspan><tspan dy="12.47" font-size="32.19">&#8203;</tspan></text>
<text transform="translate(497.5 835.2) scale(0.98 1.09)" font-size="32.19" text-anchor="middle" fill="#000" stroke="#000" stroke-width="0.6" font-weight="bold" >10<tspan font-size="21.57" dy="-12.47">5</tspan><tspan dy="12.47" font-size="32.19">&#8203;</tspan></text>
<text transform="translate(311.3 871.8) scale(0.99 1.0)" font-size="32.19" text-anchor="middle" fill="#000" stroke="#000" stroke-width="0.3" font-weight="bold" >Freq/Hz</text>
<text transform="translate(34.1 636.4) rotate(-90) scale(0.99 1.0)" font-size="32.19" text-anchor="middle" fill="#000" stroke="#000" stroke-width="0.3" font-weight="bold" >Phase/deg</text>
<text transform="translate(564.5 473) scale(1.0 0.96)" font-size="51.62" text-anchor="start" fill="#000" stroke="#000" stroke-width="0.3" font-weight="bold" >e</text>
<path d="M704.64,488.67L700.88,539.84L698.15,583.85L696.11,619.66L694.4,649L693.04,674.24L691.67,695.05L690.65,712.45L689.63,726.09L688.94,738.03L688.26,747.93L687.58,757.48L687.24,766L686.9,772.83L686.56,777.94L686.21,783.06L686.21,786.47L685.87,789.88L685.87,792.61L685.87,795.34" fill="none" stroke="#000" stroke-width="1.9" stroke-linejoin="round" />
<rect x="701.19" y="485.22" width="6.9" height="6.9" fill="#000" stroke="none" stroke-width="0"/>
<rect x="697.43" y="536.39" width="6.9" height="6.9" fill="#000" stroke="none" stroke-width="0"/>
<rect x="694.7" y="580.4" width="6.9" height="6.9" fill="#000" stroke="none" stroke-width="0"/>
<rect x="692.66" y="616.21" width="6.9" height="6.9" fill="#000" stroke="none" stroke-width="0"/>
<rect x="690.95" y="645.55" width="6.9" height="6.9" fill="#000" stroke="none" stroke-width="0"/>
<rect x="689.59" y="670.79" width="6.9" height="6.9" fill="#000" stroke="none" stroke-width="0"/>
<rect x="688.22" y="691.6" width="6.9" height="6.9" fill="#000" stroke="none" stroke-width="0"/>
<rect x="687.2" y="709" width="6.9" height="6.9" fill="#000" stroke="none" stroke-width="0"/>
<rect x="686.18" y="722.64" width="6.9" height="6.9" fill="#000" stroke="none" stroke-width="0"/>
<rect x="685.49" y="734.58" width="6.9" height="6.9" fill="#000" stroke="none" stroke-width="0"/>
<rect x="684.81" y="744.48" width="6.9" height="6.9" fill="#000" stroke="none" stroke-width="0"/>
<rect x="684.13" y="754.03" width="6.9" height="6.9" fill="#000" stroke="none" stroke-width="0"/>
<rect x="683.79" y="762.55" width="6.9" height="6.9" fill="#000" stroke="none" stroke-width="0"/>
<rect x="683.45" y="769.38" width="6.9" height="6.9" fill="#000" stroke="none" stroke-width="0"/>
<rect x="683.11" y="774.49" width="6.9" height="6.9" fill="#000" stroke="none" stroke-width="0"/>
<rect x="682.76" y="779.61" width="6.9" height="6.9" fill="#000" stroke="none" stroke-width="0"/>
<rect x="682.76" y="783.02" width="6.9" height="6.9" fill="#000" stroke="none" stroke-width="0"/>
<rect x="682.42" y="786.43" width="6.9" height="6.9" fill="#000" stroke="none" stroke-width="0"/>
<rect x="682.42" y="789.16" width="6.9" height="6.9" fill="#000" stroke="none" stroke-width="0"/>
<rect x="682.42" y="791.89" width="6.9" height="6.9" fill="#000" stroke="none" stroke-width="0"/>
<rect x="685.2" y="477.7" width="394.9" height="317.6" fill="none" stroke="#000" stroke-width="3.6"/>
<line x1="683.4" y1="540.5" x2="679.2" y2="540.5" stroke="#000" stroke-width="3.2" />
<line x1="683.4" y1="667.8" x2="679.2" y2="667.8" stroke="#000" stroke-width="3.2" />
<line x1="683.4" y1="795.3" x2="679.2" y2="795.3" stroke="#000" stroke-width="3.2" />
<line x1="683.4" y1="604.2" x2="681.6" y2="604.2" stroke="#000" stroke-width="2.4" />
<line x1="683.4" y1="731.5" x2="681.6" y2="731.5" stroke="#000" stroke-width="2.4" />
<line x1="685.2" y1="797.1" x2="685.2" y2="801.3" stroke="#000" stroke-width="3.2" />
<line x1="842.8" y1="797.1" x2="842.8" y2="801.3" stroke="#000" stroke-width="3.2" />
<line x1="1000.7" y1="797.1" x2="1000.7" y2="801.3" stroke="#000" stroke-width="3.2" />
<line x1="764" y1="797.1" x2="764" y2="798.9" stroke="#000" stroke-width="2.4" />
<line x1="921.8" y1="797.1" x2="921.8" y2="798.9" stroke="#000" stroke-width="2.4" />
<line x1="1079.5" y1="797.1" x2="1079.5" y2="798.9" stroke="#000" stroke-width="2.4" />
<text transform="translate(675 551.1) scale(0.98 1.02)" font-size="28.31" text-anchor="end" fill="#000" stroke="#000" stroke-width="0.6" font-weight="bold" >-400</text>
<text transform="translate(675 678.4) scale(0.98 1.02)" font-size="28.31" text-anchor="end" fill="#000" stroke="#000" stroke-width="0.6" font-weight="bold" >-200</text>
<text transform="translate(675 805.9) scale(0.98 1.02)" font-size="28.31" text-anchor="end" fill="#000" stroke="#000" stroke-width="0.6" font-weight="bold" >0</text>
<text transform="translate(685.2 827.1) scale(0.98 1.02)" font-size="28.31" text-anchor="middle" fill="#000" stroke="#000" stroke-width="0.6" font-weight="bold" >0</text>
<text transform="translate(842.8 827.1) scale(0.98 1.02)" font-size="28.31" text-anchor="middle" fill="#000" stroke="#000" stroke-width="0.6" font-weight="bold" >200</text>
<text transform="translate(1000.7 827.1) scale(0.98 1.02)" font-size="28.31" text-anchor="middle" fill="#000" stroke="#000" stroke-width="0.6" font-weight="bold" >400</text>
<text transform="translate(882.4 866) scale(0.99 1.0)" font-size="36.63" text-anchor="middle" fill="#000" stroke="#000" stroke-width="0.3" font-weight="bold" >Z'/&#937;</text>
<text transform="translate(617.3 636.7) rotate(-90) scale(0.99 1.0)" font-size="36.63" text-anchor="middle" fill="#000" stroke="#000" stroke-width="0.3" font-weight="bold" >Z''/&#937;</text>
<rect x="829" y="506.2" width="227.8" height="180.3" fill="none" stroke="#000" stroke-width="2.3"/>
<line x1="829" y1="655.8" x2="1056.8" y2="655.8" stroke="#000" stroke-width="2.4" />
<path d="M960.82,682.43L960.82,670.83L961.16,660.94L961.84,651.39L962.52,641.5L963.21,631.26L963.89,620L964.57,607.72L965.25,593.74L966.62,577.36L967.98,558.6L970.03,536.77L972.07,510.5" fill="none" stroke="#000" stroke-width="1.7" stroke-linejoin="round" />
<rect x="957.62" y="679.23" width="6.4" height="6.4" fill="#000" stroke="none" stroke-width="0"/>
<rect x="957.62" y="667.63" width="6.4" height="6.4" fill="#000" stroke="none" stroke-width="0"/>
<rect x="957.96" y="657.74" width="6.4" height="6.4" fill="#000" stroke="none" stroke-width="0"/>
<rect x="958.64" y="648.19" width="6.4" height="6.4" fill="#000" stroke="none" stroke-width="0"/>
<rect x="959.32" y="638.3" width="6.4" height="6.4" fill="#000" stroke="none" stroke-width="0"/>
<rect x="960.01" y="628.06" width="6.4" height="6.4" fill="#000" stroke="none" stroke-width="0"/>
<rect x="960.69" y="616.8" width="6.4" height="6.4" fill="#000" stroke="none" stroke-width="0"/>
<rect x="961.37" y="604.52" width="6.4" height="6.4" fill="#000" stroke="none" stroke-width="0"/>
<rect x="962.05" y="590.54" width="6.4" height="6.4" fill="#000" stroke="none" stroke-width="0"/>
<rect x="963.42" y="574.16" width="6.4" height="6.4" fill="#000" stroke="none" stroke-width="0"/>
<rect x="964.78" y="555.4" width="6.4" height="6.4" fill="#000" stroke="none" stroke-width="0"/>
<rect x="966.83" y="533.57" width="6.4" height="6.4" fill="#000" stroke="none" stroke-width="0"/>
<rect x="968.87" y="507.3" width="6.4" height="6.4" fill="#000" stroke="none" stroke-width="0"/>
<line x1="827.9" y1="536.8" x2="825.3" y2="536.8" stroke="#000" stroke-width="2.2" />
<line x1="827.9" y1="596.5" x2="825.3" y2="596.5" stroke="#000" stroke-width="2.2" />
<line x1="827.9" y1="655.8" x2="825.3" y2="655.8" stroke="#000" stroke-width="2.2" />
<line x1="827.9" y1="566.6" x2="826.6" y2="566.6" stroke="#000" stroke-width="1.6" />
<line x1="827.9" y1="626.2" x2="826.6" y2="626.2" stroke="#000" stroke-width="1.6" />
<line x1="829.2" y1="687.6" x2="829.2" y2="690.2" stroke="#000" stroke-width="2.2" />
<line x1="920.2" y1="687.6" x2="920.2" y2="690.2" stroke="#000" stroke-width="2.2" />
<line x1="1011" y1="687.6" x2="1011" y2="690.2" stroke="#000" stroke-width="2.2" />
<line x1="874.7" y1="687.6" x2="874.7" y2="688.9" stroke="#000" stroke-width="1.6" />
<line x1="965.6" y1="687.6" x2="965.6" y2="688.9" stroke="#000" stroke-width="1.6" />
<line x1="1056.4" y1="687.6" x2="1056.4" y2="688.9" stroke="#000" stroke-width="1.6" />
<text transform="translate(824.4 545.8) scale(0.98 1.0)" font-size="26.64" text-anchor="end" fill="#000" stroke="#000" stroke-width="0.6" font-weight="bold" >-0.4</text>
<text transform="translate(824.4 605.5) scale(0.98 1.0)" font-size="26.64" text-anchor="end" fill="#000" stroke="#000" stroke-width="0.6" font-weight="bold" >-0.2</text>
<text transform="translate(824.4 664.8) scale(0.98 1.0)" font-size="26.64" text-anchor="end" fill="#000" stroke="#000" stroke-width="0.6" font-weight="bold" >0.0</text>
<text transform="translate(829.2 713.3) scale(0.98 1.0)" font-size="26.64" text-anchor="middle" fill="#000" stroke="#000" stroke-width="0.6" font-weight="bold" >0.0</text>
<text transform="translate(920.2 713.3) scale(0.98 1.0)" font-size="26.64" text-anchor="middle" fill="#000" stroke="#000" stroke-width="0.6" font-weight="bold" >0.2</text>
<text transform="translate(1011 713.3) scale(0.98 1.0)" font-size="26.64" text-anchor="middle" fill="#000" stroke="#000" stroke-width="0.6" font-weight="bold" >0.4</text>
<text transform="translate(942.6 756.5) scale(0.99 1.0)" font-size="32.75" text-anchor="middle" fill="#000" stroke="#000" stroke-width="0.3" font-weight="bold" >Z'/&#937;</text>
<text transform="translate(769.1 596.8) rotate(-90) scale(0.99 1.0)" font-size="33.3" text-anchor="middle" fill="#000" stroke="#000" stroke-width="0.3" font-weight="bold" >Z''/&#937;</text>
<text transform="translate(1163 481.4) scale(1.0 0.96)" font-size="51.62" text-anchor="start" fill="#000" stroke="#000" stroke-width="0.3" font-weight="bold" >f</text>
<clipPath id="cf"><rect x="1268.5" y="477.5" width="377.4000000000001" height="314.79999999999995"/></clipPath><g clip-path="url(#cf)">
<path d="M1536.09,720.43L1535.56,718.93M1530.11,702.2L1528.96,698.42M1523.89,681.57L1522.6,677.25M1517.61,660.38L1516.3,655.94M1511.2,639.1L1510.13,635.66M1504.45,619.01L1504.3,618.62" fill="none" stroke="#000" stroke-width="3" stroke-linecap="round"/>
<circle cx="1542.12" cy="736.73" r="1.28" fill="#000"/>
<circle cx="1498.09" cy="602.67" r="1.02" fill="#000"/>
<rect x="1641.05" y="766.2" width="9.7" height="9.7" fill="#fff" stroke="#2a2a2a" stroke-width="1"/>
<rect x="1634.76" y="766.9" width="9.7" height="9.7" fill="#fff" stroke="#2a2a2a" stroke-width="1"/>
<rect x="1628.47" y="767.59" width="9.7" height="9.7" fill="#fff" stroke="#2a2a2a" stroke-width="1"/>
<rect x="1622.18" y="768.62" width="9.7" height="9.7" fill="#fff" stroke="#2a2a2a" stroke-width="1"/>
<rect x="1615.89" y="769.6" width="9.7" height="9.7" fill="#fff" stroke="#2a2a2a" stroke-width="1"/>
<rect x="1609.6" y="770.95" width="9.7" height="9.7" fill="#fff" stroke="#2a2a2a" stroke-width="1"/>
<rect x="1603.31" y="772.7" width="9.7" height="9.7" fill="#fff" stroke="#2a2a2a" stroke-width="1"/>
<rect x="1597.02" y="774.04" width="9.7" height="9.7" fill="#fff" stroke="#2a2a2a" stroke-width="1"/>
<rect x="1590.73" y="775.44" width="9.7" height="9.7" fill="#fff" stroke="#2a2a2a" stroke-width="1"/>
<rect x="1584.44" y="776.57" width="9.7" height="9.7" fill="#fff" stroke="#2a2a2a" stroke-width="1"/>
<rect x="1578.15" y="776.58" width="9.7" height="9.7" fill="#fff" stroke="#2a2a2a" stroke-width="1"/>
<rect x="1571.86" y="775.67" width="9.7" height="9.7" fill="#fff" stroke="#2a2a2a" stroke-width="1"/>
<rect x="1565.57" y="773.36" width="9.7" height="9.7" fill="#fff" stroke="#2a2a2a" stroke-width="1"/>
<rect x="1559.28" y="768.63" width="9.7" height="9.7" fill="#fff" stroke="#2a2a2a" stroke-width="1"/>
<rect x="1552.99" y="761.38" width="9.7" height="9.7" fill="#fff" stroke="#2a2a2a" stroke-width="1"/>
<rect x="1546.7" y="752.57" width="9.7" height="9.7" fill="#fff" stroke="#2a2a2a" stroke-width="1"/>
<rect x="1540.41" y="739.86" width="9.7" height="9.7" fill="#fff" stroke="#2a2a2a" stroke-width="1"/>
<rect x="1534.12" y="723.9" width="9.7" height="9.7" fill="#fff" stroke="#2a2a2a" stroke-width="1"/>
<rect x="1527.83" y="705.77" width="9.7" height="9.7" fill="#fff" stroke="#2a2a2a" stroke-width="1"/>
<rect x="1521.54" y="685.16" width="9.7" height="9.7" fill="#fff" stroke="#2a2a2a" stroke-width="1"/>
<rect x="1515.25" y="663.97" width="9.7" height="9.7" fill="#fff" stroke="#2a2a2a" stroke-width="1"/>
<rect x="1508.96" y="642.65" width="9.7" height="9.7" fill="#fff" stroke="#2a2a2a" stroke-width="1"/>
<rect x="1502.67" y="622.4" width="9.7" height="9.7" fill="#fff" stroke="#2a2a2a" stroke-width="1"/>
<rect x="1496.38" y="605.52" width="9.7" height="9.7" fill="#fff" stroke="#2a2a2a" stroke-width="1"/>
<rect x="1490.09" y="590.12" width="9.7" height="9.7" fill="#fff" stroke="#2a2a2a" stroke-width="1"/>
<rect x="1483.8" y="577.56" width="9.7" height="9.7" fill="#fff" stroke="#2a2a2a" stroke-width="1"/>
<rect x="1477.51" y="567.45" width="9.7" height="9.7" fill="#fff" stroke="#2a2a2a" stroke-width="1"/>
<rect x="1471.22" y="558.55" width="9.7" height="9.7" fill="#fff" stroke="#2a2a2a" stroke-width="1"/>
<rect x="1464.93" y="553.97" width="9.7" height="9.7" fill="#fff" stroke="#2a2a2a" stroke-width="1"/>
<rect x="1458.64" y="547.76" width="9.7" height="9.7" fill="#fff" stroke="#2a2a2a" stroke-width="1"/>
<rect x="1452.35" y="544.96" width="9.7" height="9.7" fill="#fff" stroke="#2a2a2a" stroke-width="1"/>
<rect x="1446.06" y="541.04" width="9.7" height="9.7" fill="#fff" stroke="#2a2a2a" stroke-width="1"/>
<rect x="1439.77" y="541.02" width="9.7" height="9.7" fill="#fff" stroke="#2a2a2a" stroke-width="1"/>
<rect x="1433.48" y="535.93" width="9.7" height="9.7" fill="#fff" stroke="#2a2a2a" stroke-width="1"/>
<rect x="1427.19" y="535.89" width="9.7" height="9.7" fill="#fff" stroke="#2a2a2a" stroke-width="1"/>
<rect x="1420.9" y="536.92" width="9.7" height="9.7" fill="#fff" stroke="#2a2a2a" stroke-width="1"/>
<rect x="1414.61" y="528.34" width="9.7" height="9.7" fill="#fff" stroke="#2a2a2a" stroke-width="1"/>
<rect x="1408.32" y="525.31" width="9.7" height="9.7" fill="#fff" stroke="#2a2a2a" stroke-width="1"/>
<rect x="1402.03" y="523.2" width="9.7" height="9.7" fill="#fff" stroke="#2a2a2a" stroke-width="1"/>
<rect x="1395.74" y="521.69" width="9.7" height="9.7" fill="#fff" stroke="#2a2a2a" stroke-width="1"/>
<rect x="1389.45" y="520.48" width="9.7" height="9.7" fill="#fff" stroke="#2a2a2a" stroke-width="1"/>
<rect x="1383.16" y="519.25" width="9.7" height="9.7" fill="#fff" stroke="#2a2a2a" stroke-width="1"/>
<rect x="1376.87" y="517.71" width="9.7" height="9.7" fill="#fff" stroke="#2a2a2a" stroke-width="1"/>
<rect x="1370.58" y="515.87" width="9.7" height="9.7" fill="#fff" stroke="#2a2a2a" stroke-width="1"/>
<rect x="1364.29" y="514" width="9.7" height="9.7" fill="#fff" stroke="#2a2a2a" stroke-width="1"/>
<rect x="1358" y="512.11" width="9.7" height="9.7" fill="#fff" stroke="#2a2a2a" stroke-width="1"/>
<rect x="1351.71" y="510.25" width="9.7" height="9.7" fill="#fff" stroke="#2a2a2a" stroke-width="1"/>
<rect x="1345.42" y="508.44" width="9.7" height="9.7" fill="#fff" stroke="#2a2a2a" stroke-width="1"/>
<rect x="1339.13" y="506.73" width="9.7" height="9.7" fill="#fff" stroke="#2a2a2a" stroke-width="1"/>
<rect x="1332.84" y="505.1" width="9.7" height="9.7" fill="#fff" stroke="#2a2a2a" stroke-width="1"/>
<rect x="1326.55" y="503.52" width="9.7" height="9.7" fill="#fff" stroke="#2a2a2a" stroke-width="1"/>
<rect x="1320.26" y="501.99" width="9.7" height="9.7" fill="#fff" stroke="#2a2a2a" stroke-width="1"/>
<rect x="1313.97" y="500.49" width="9.7" height="9.7" fill="#fff" stroke="#2a2a2a" stroke-width="1"/>
<rect x="1307.68" y="499.03" width="9.7" height="9.7" fill="#fff" stroke="#2a2a2a" stroke-width="1"/>
<rect x="1301.39" y="497.59" width="9.7" height="9.7" fill="#fff" stroke="#2a2a2a" stroke-width="1"/>
<rect x="1295.1" y="496.18" width="9.7" height="9.7" fill="#fff" stroke="#2a2a2a" stroke-width="1"/>
<rect x="1288.81" y="494.78" width="9.7" height="9.7" fill="#fff" stroke="#2a2a2a" stroke-width="1"/>
<rect x="1282.52" y="493.42" width="9.7" height="9.7" fill="#fff" stroke="#2a2a2a" stroke-width="1"/>
<rect x="1276.23" y="492.09" width="9.7" height="9.7" fill="#fff" stroke="#2a2a2a" stroke-width="1"/>
<rect x="1269.94" y="490.79" width="9.7" height="9.7" fill="#fff" stroke="#2a2a2a" stroke-width="1"/>
<rect x="1263.65" y="489.51" width="9.7" height="9.7" fill="#fff" stroke="#2a2a2a" stroke-width="1"/>
<path d="M1586.23,715.59L1586.06,715.15M1580.19,698.56L1579.52,696.54M1574.3,679.73L1572.83,674.57M1568.33,657.56L1566.22,648.96M1562.13,631.84L1559.84,622.08M1555.76,604.96L1553.63,596.26M1549.57,579.13L1547.24,569.01M1543.03,551.92L1541.2,544.88M1536.41,527.95L1535.24,524.07M1504.46,519.61L1504.29,520.06M1498.61,536.71L1497.56,540.07M1492.32,556.87L1491.27,560.2M1486.22,577.06L1484.79,582.08M1479.85,598.97L1478.58,603.2M1473.22,619.96L1472.63,621.71" fill="none" stroke="#f00" stroke-width="3" stroke-linecap="round"/>
<circle cx="1466.63" cy="637.95" r="1.22" fill="#f00"/>
<circle cx="1460.35" cy="653.96" r="1.38" fill="#f00"/>
<circle cx="1645.9" cy="767.78" r="5.1" fill="#fff" stroke="#f00" stroke-width="1"/>
<circle cx="1639.61" cy="767.12" r="5.1" fill="#fff" stroke="#f00" stroke-width="1"/>
<circle cx="1633.32" cy="766.12" r="5.1" fill="#fff" stroke="#f00" stroke-width="1"/>
<circle cx="1627.03" cy="764.43" r="5.1" fill="#fff" stroke="#f00" stroke-width="1"/>
<circle cx="1620.74" cy="762.04" r="5.1" fill="#fff" stroke="#f00" stroke-width="1"/>
<circle cx="1614.45" cy="758.81" r="5.1" fill="#fff" stroke="#f00" stroke-width="1"/>
<circle cx="1608.16" cy="753.74" r="5.1" fill="#fff" stroke="#f00" stroke-width="1"/>
<circle cx="1601.87" cy="746.54" r="5.1" fill="#fff" stroke="#f00" stroke-width="1"/>
<circle cx="1595.58" cy="737.15" r="5.1" fill="#fff" stroke="#f00" stroke-width="1"/>
<circle cx="1589.29" cy="723.84" r="5.1" fill="#fff" stroke="#f00" stroke-width="1"/>
<circle cx="1583" cy="706.9" r="5.1" fill="#fff" stroke="#f00" stroke-width="1"/>
<circle cx="1576.71" cy="688.2" r="5.1" fill="#fff" stroke="#f00" stroke-width="1"/>
<circle cx="1570.42" cy="666.11" r="5.1" fill="#fff" stroke="#f00" stroke-width="1"/>
<circle cx="1564.13" cy="640.41" r="5.1" fill="#fff" stroke="#f00" stroke-width="1"/>
<circle cx="1557.84" cy="613.51" r="5.1" fill="#fff" stroke="#f00" stroke-width="1"/>
<circle cx="1551.55" cy="587.71" r="5.1" fill="#fff" stroke="#f00" stroke-width="1"/>
<circle cx="1545.26" cy="560.43" r="5.1" fill="#fff" stroke="#f00" stroke-width="1"/>
<circle cx="1538.97" cy="536.37" r="5.1" fill="#fff" stroke="#f00" stroke-width="1"/>
<circle cx="1532.68" cy="515.65" r="5.1" fill="#fff" stroke="#f00" stroke-width="1"/>
<circle cx="1526.39" cy="503.44" r="5.1" fill="#fff" stroke="#f00" stroke-width="1"/>
<circle cx="1520.1" cy="497.6" r="5.1" fill="#fff" stroke="#f00" stroke-width="1"/>
<circle cx="1513.81" cy="501.29" r="5.1" fill="#fff" stroke="#f00" stroke-width="1"/>
<circle cx="1507.52" cy="511.36" r="5.1" fill="#fff" stroke="#f00" stroke-width="1"/>
<circle cx="1501.23" cy="528.31" r="5.1" fill="#fff" stroke="#f00" stroke-width="1"/>
<circle cx="1494.94" cy="548.47" r="5.1" fill="#fff" stroke="#f00" stroke-width="1"/>
<circle cx="1488.65" cy="568.6" r="5.1" fill="#fff" stroke="#f00" stroke-width="1"/>
<circle cx="1482.36" cy="590.54" r="5.1" fill="#fff" stroke="#f00" stroke-width="1"/>
<circle cx="1476.07" cy="611.63" r="5.1" fill="#fff" stroke="#f00" stroke-width="1"/>
<circle cx="1469.78" cy="630.03" r="5.1" fill="#fff" stroke="#f00" stroke-width="1"/>
<circle cx="1463.49" cy="645.87" r="5.1" fill="#fff" stroke="#f00" stroke-width="1"/>
<circle cx="1457.2" cy="662.05" r="5.1" fill="#fff" stroke="#f00" stroke-width="1"/>
<circle cx="1450.91" cy="673.73" r="5.1" fill="#fff" stroke="#f00" stroke-width="1"/>
<circle cx="1444.62" cy="683.75" r="5.1" fill="#fff" stroke="#f00" stroke-width="1"/>
<circle cx="1438.33" cy="692.23" r="5.1" fill="#fff" stroke="#f00" stroke-width="1"/>
<circle cx="1432.04" cy="699.27" r="5.1" fill="#fff" stroke="#f00" stroke-width="1"/>
<circle cx="1425.75" cy="705.23" r="5.1" fill="#fff" stroke="#f00" stroke-width="1"/>
<circle cx="1419.46" cy="710.47" r="5.1" fill="#fff" stroke="#f00" stroke-width="1"/>
<circle cx="1413.17" cy="714.4" r="5.1" fill="#fff" stroke="#f00" stroke-width="1"/>
<circle cx="1406.88" cy="717.42" r="5.1" fill="#fff" stroke="#f00" stroke-width="1"/>
<circle cx="1400.59" cy="719.72" r="5.1" fill="#fff" stroke="#f00" stroke-width="1"/>
<circle cx="1394.3" cy="721.68" r="5.1" fill="#fff" stroke="#f00" stroke-width="1"/>
<circle cx="1388.01" cy="723.36" r="5.1" fill="#fff" stroke="#f00" stroke-width="1"/>
<circle cx="1381.72" cy="724.87" r="5.1" fill="#fff" stroke="#f00" stroke-width="1"/>
<circle cx="1375.43" cy="726.27" r="5.1" fill="#fff" stroke="#f00" stroke-width="1"/>
<circle cx="1369.14" cy="727.58" r="5.1" fill="#fff" stroke="#f00" stroke-width="1"/>
<circle cx="1362.85" cy="728.79" r="5.1" fill="#fff" stroke="#f00" stroke-width="1"/>
<circle cx="1356.56" cy="729.89" r="5.1" fill="#fff" stroke="#f00" stroke-width="1"/>
<circle cx="1350.27" cy="730.87" r="5.1" fill="#fff" stroke="#f00" stroke-width="1"/>
<circle cx="1343.98" cy="731.72" r="5.1" fill="#fff" stroke="#f00" stroke-width="1"/>
<circle cx="1337.69" cy="732.48" r="5.1" fill="#fff" stroke="#f00" stroke-width="1"/>
<circle cx="1331.4" cy="733.18" r="5.1" fill="#fff" stroke="#f00" stroke-width="1"/>
<circle cx="1325.11" cy="733.82" r="5.1" fill="#fff" stroke="#f00" stroke-width="1"/>
<circle cx="1318.82" cy="734.4" r="5.1" fill="#fff" stroke="#f00" stroke-width="1"/>
<circle cx="1312.53" cy="734.91" r="5.1" fill="#fff" stroke="#f00" stroke-width="1"/>
<circle cx="1306.24" cy="735.36" r="5.1" fill="#fff" stroke="#f00" stroke-width="1"/>
<circle cx="1299.95" cy="735.77" r="5.1" fill="#fff" stroke="#f00" stroke-width="1"/>
<circle cx="1293.66" cy="736.16" r="5.1" fill="#fff" stroke="#f00" stroke-width="1"/>
<circle cx="1287.37" cy="736.45" r="5.1" fill="#fff" stroke="#f00" stroke-width="1"/>
<circle cx="1281.08" cy="736.45" r="5.1" fill="#fff" stroke="#f00" stroke-width="1"/>
<circle cx="1274.79" cy="736.07" r="5.1" fill="#fff" stroke="#f00" stroke-width="1"/>
<circle cx="1268.5" cy="735.81" r="5.1" fill="#fff" stroke="#f00" stroke-width="1"/>
</g>
<path d="M1645.9,477.5L1268.5,477.5L1268.5,792.3L1645.9,792.3" fill="none" stroke="#000" stroke-width="3.6" stroke-linejoin="round" />
<line x1="1645.9" y1="475.7" x2="1645.9" y2="794.1" stroke="#f00" stroke-width="3.6" />
<line x1="1266.7" y1="519.6" x2="1262.5" y2="519.6" stroke="#000" stroke-width="3.2" />
<line x1="1266.7" y1="603.2" x2="1262.5" y2="603.2" stroke="#000" stroke-width="3.2" />
<line x1="1266.7" y1="686.8" x2="1262.5" y2="686.8" stroke="#000" stroke-width="3.2" />
<line x1="1266.7" y1="770.4" x2="1262.5" y2="770.4" stroke="#000" stroke-width="3.2" />
<line x1="1266.7" y1="561.4" x2="1264.9" y2="561.4" stroke="#000" stroke-width="2.4" />
<line x1="1266.7" y1="645" x2="1264.9" y2="645" stroke="#000" stroke-width="2.4" />
<line x1="1266.7" y1="728.6" x2="1264.9" y2="728.6" stroke="#000" stroke-width="2.4" />
<line x1="1647.7" y1="477.5" x2="1651.9" y2="477.5" stroke="#f00" stroke-width="3.2" />
<line x1="1647.7" y1="574.3" x2="1651.9" y2="574.3" stroke="#f00" stroke-width="3.2" />
<line x1="1647.7" y1="671.1" x2="1651.9" y2="671.1" stroke="#f00" stroke-width="3.2" />
<line x1="1647.7" y1="767.9" x2="1651.9" y2="767.9" stroke="#f00" stroke-width="3.2" />
<line x1="1647.7" y1="526.3" x2="1649.2" y2="526.3" stroke="#f00" stroke-width="2.4" />
<line x1="1647.7" y1="623.1" x2="1649.2" y2="623.1" stroke="#f00" stroke-width="2.4" />
<line x1="1647.7" y1="719.9" x2="1649.2" y2="719.9" stroke="#f00" stroke-width="2.4" />
<line x1="1268.5" y1="794.1" x2="1268.5" y2="798.3" stroke="#000" stroke-width="3.2" />
<line x1="1343.98" y1="794.1" x2="1343.98" y2="798.3" stroke="#000" stroke-width="3.2" />
<line x1="1419.46" y1="794.1" x2="1419.46" y2="798.3" stroke="#000" stroke-width="3.2" />
<line x1="1494.94" y1="794.1" x2="1494.94" y2="798.3" stroke="#000" stroke-width="3.2" />
<line x1="1570.42" y1="794.1" x2="1570.42" y2="798.3" stroke="#000" stroke-width="3.2" />
<line x1="1645.9" y1="794.1" x2="1645.9" y2="798.3" stroke="#000" stroke-width="3.2" />
<line x1="1291.22" y1="794.1" x2="1291.22" y2="796.1" stroke="#000" stroke-width="2.1" />
<line x1="1304.51" y1="794.1" x2="1304.51" y2="796.1" stroke="#000" stroke-width="2.1" />
<line x1="1313.94" y1="794.1" x2="1313.94" y2="796.1" stroke="#000" stroke-width="2.1" />
<line x1="1321.26" y1="794.1" x2="1321.26" y2="796.1" stroke="#000" stroke-width="2.1" />
<line x1="1327.23" y1="794.1" x2="1327.23" y2="796.1" stroke="#000" stroke-width="2.1" />
<line x1="1332.29" y1="794.1" x2="1332.29" y2="796.1" stroke="#000" stroke-width="2.1" />
<line x1="1336.67" y1="794.1" x2="1336.67" y2="796.1" stroke="#000" stroke-width="2.1" />
<line x1="1340.53" y1="794.1" x2="1340.53" y2="796.1" stroke="#000" stroke-width="2.1" />
<line x1="1366.7" y1="794.1" x2="1366.7" y2="796.1" stroke="#000" stroke-width="2.1" />
<line x1="1379.99" y1="794.1" x2="1379.99" y2="796.1" stroke="#000" stroke-width="2.1" />
<line x1="1389.42" y1="794.1" x2="1389.42" y2="796.1" stroke="#000" stroke-width="2.1" />
<line x1="1396.74" y1="794.1" x2="1396.74" y2="796.1" stroke="#000" stroke-width="2.1" />
<line x1="1402.71" y1="794.1" x2="1402.71" y2="796.1" stroke="#000" stroke-width="2.1" />
<line x1="1407.77" y1="794.1" x2="1407.77" y2="796.1" stroke="#000" stroke-width="2.1" />
<line x1="1412.15" y1="794.1" x2="1412.15" y2="796.1" stroke="#000" stroke-width="2.1" />
<line x1="1416.01" y1="794.1" x2="1416.01" y2="796.1" stroke="#000" stroke-width="2.1" />
<line x1="1442.18" y1="794.1" x2="1442.18" y2="796.1" stroke="#000" stroke-width="2.1" />
<line x1="1455.47" y1="794.1" x2="1455.47" y2="796.1" stroke="#000" stroke-width="2.1" />
<line x1="1464.9" y1="794.1" x2="1464.9" y2="796.1" stroke="#000" stroke-width="2.1" />
<line x1="1472.22" y1="794.1" x2="1472.22" y2="796.1" stroke="#000" stroke-width="2.1" />
<line x1="1478.19" y1="794.1" x2="1478.19" y2="796.1" stroke="#000" stroke-width="2.1" />
<line x1="1483.25" y1="794.1" x2="1483.25" y2="796.1" stroke="#000" stroke-width="2.1" />
<line x1="1487.63" y1="794.1" x2="1487.63" y2="796.1" stroke="#000" stroke-width="2.1" />
<line x1="1491.49" y1="794.1" x2="1491.49" y2="796.1" stroke="#000" stroke-width="2.1" />
<line x1="1517.66" y1="794.1" x2="1517.66" y2="796.1" stroke="#000" stroke-width="2.1" />
<line x1="1530.95" y1="794.1" x2="1530.95" y2="796.1" stroke="#000" stroke-width="2.1" />
<line x1="1540.38" y1="794.1" x2="1540.38" y2="796.1" stroke="#000" stroke-width="2.1" />
<line x1="1547.7" y1="794.1" x2="1547.7" y2="796.1" stroke="#000" stroke-width="2.1" />
<line x1="1553.67" y1="794.1" x2="1553.67" y2="796.1" stroke="#000" stroke-width="2.1" />
<line x1="1558.73" y1="794.1" x2="1558.73" y2="796.1" stroke="#000" stroke-width="2.1" />
<line x1="1563.11" y1="794.1" x2="1563.11" y2="796.1" stroke="#000" stroke-width="2.1" />
<line x1="1566.97" y1="794.1" x2="1566.97" y2="796.1" stroke="#000" stroke-width="2.1" />
<line x1="1593.14" y1="794.1" x2="1593.14" y2="796.1" stroke="#000" stroke-width="2.1" />
<line x1="1606.43" y1="794.1" x2="1606.43" y2="796.1" stroke="#000" stroke-width="2.1" />
<line x1="1615.86" y1="794.1" x2="1615.86" y2="796.1" stroke="#000" stroke-width="2.1" />
<line x1="1623.18" y1="794.1" x2="1623.18" y2="796.1" stroke="#000" stroke-width="2.1" />
<line x1="1629.15" y1="794.1" x2="1629.15" y2="796.1" stroke="#000" stroke-width="2.1" />
<line x1="1634.21" y1="794.1" x2="1634.21" y2="796.1" stroke="#000" stroke-width="2.1" />
<line x1="1638.59" y1="794.1" x2="1638.59" y2="796.1" stroke="#000" stroke-width="2.1" />
<line x1="1642.45" y1="794.1" x2="1642.45" y2="796.1" stroke="#000" stroke-width="2.1" />
<text transform="translate(1258.8 530.4) scale(0.98 1.09)" font-size="32.19" text-anchor="end" fill="#000" stroke="#000" stroke-width="0.6" font-weight="bold" >1200</text>
<text transform="translate(1258.8 614) scale(0.98 1.09)" font-size="32.19" text-anchor="end" fill="#000" stroke="#000" stroke-width="0.6" font-weight="bold" >800</text>
<text transform="translate(1258.8 697.6) scale(0.98 1.09)" font-size="32.19" text-anchor="end" fill="#000" stroke="#000" stroke-width="0.6" font-weight="bold" >400</text>
<text transform="translate(1258.8 781.2) scale(0.98 1.09)" font-size="32.19" text-anchor="end" fill="#000" stroke="#000" stroke-width="0.6" font-weight="bold" >0</text>
<text transform="translate(1655.2 488.3) scale(0.98 1.09)" font-size="32.19" text-anchor="start" fill="#f00" stroke="#f00" stroke-width="0.6" font-weight="bold" >600</text>
<text transform="translate(1655.2 585.1) scale(0.98 1.09)" font-size="32.19" text-anchor="start" fill="#f00" stroke="#f00" stroke-width="0.6" font-weight="bold" >400</text>
<text transform="translate(1655.2 681.9) scale(0.98 1.09)" font-size="32.19" text-anchor="start" fill="#f00" stroke="#f00" stroke-width="0.6" font-weight="bold" >200</text>
<text transform="translate(1655.2 778.7) scale(0.98 1.09)" font-size="32.19" text-anchor="start" fill="#f00" stroke="#f00" stroke-width="0.6" font-weight="bold" >0</text>
<text transform="translate(1268.5 833.4) scale(0.98 1.09)" font-size="32.19" text-anchor="middle" fill="#000" stroke="#000" stroke-width="0.6" font-weight="bold" >10<tspan font-size="21.57" dy="-12.47">0</tspan><tspan dy="12.47" font-size="32.19">&#8203;</tspan></text>
<text transform="translate(1343.98 833.4) scale(0.98 1.09)" font-size="32.19" text-anchor="middle" fill="#000" stroke="#000" stroke-width="0.6" font-weight="bold" >10<tspan font-size="21.57" dy="-12.47">1</tspan><tspan dy="12.47" font-size="32.19">&#8203;</tspan></text>
<text transform="translate(1419.46 833.4) scale(0.98 1.09)" font-size="32.19" text-anchor="middle" fill="#000" stroke="#000" stroke-width="0.6" font-weight="bold" >10<tspan font-size="21.57" dy="-12.47">2</tspan><tspan dy="12.47" font-size="32.19">&#8203;</tspan></text>
<text transform="translate(1494.94 833.4) scale(0.98 1.09)" font-size="32.19" text-anchor="middle" fill="#000" stroke="#000" stroke-width="0.6" font-weight="bold" >10<tspan font-size="21.57" dy="-12.47">3</tspan><tspan dy="12.47" font-size="32.19">&#8203;</tspan></text>
<text transform="translate(1570.42 833.4) scale(0.98 1.09)" font-size="32.19" text-anchor="middle" fill="#000" stroke="#000" stroke-width="0.6" font-weight="bold" >10<tspan font-size="21.57" dy="-12.47">4</tspan><tspan dy="12.47" font-size="32.19">&#8203;</tspan></text>
<text transform="translate(1645.9 833.4) scale(0.98 1.09)" font-size="32.19" text-anchor="middle" fill="#000" stroke="#000" stroke-width="0.6" font-weight="bold" >10<tspan font-size="21.57" dy="-12.47">5</tspan><tspan dy="12.47" font-size="32.19">&#8203;</tspan></text>
<text transform="translate(1469.7 869.7) scale(0.99 1.0)" font-size="32.19" text-anchor="middle" fill="#000" stroke="#000" stroke-width="0.3" font-weight="bold" >Freq/Hz</text>
<text transform="translate(1184.3 642.6) rotate(-90) scale(0.99 1.0)" font-size="32.19" text-anchor="middle" fill="#000" stroke="#000" stroke-width="0.3" font-weight="bold" >C' /&#181;F cm<tspan font-size="19.96" dy="-13.52">-2</tspan><tspan dy="13.52" font-size="32.19">&#8203;</tspan></text>
<text transform="translate(1743.1 634) rotate(-90) scale(0.99 1.0)" font-size="32.19" text-anchor="middle" fill="#000" stroke="#000" stroke-width="0.3" font-weight="bold" >C'' /&#181;F cm<tspan font-size="19.96" dy="-13.52">-2</tspan><tspan dy="13.52" font-size="32.19">&#8203;</tspan></text>
<text transform="translate(5.5 901.5) scale(1.0 0.96)" font-size="51.62" text-anchor="start" fill="#000" stroke="#000" stroke-width="0.3" font-weight="bold" >g</text>
<clipPath id="cg"><rect x="128.9" y="919.4" width="377.29999999999995" height="312.0000000000001"/></clipPath><g clip-path="url(#cg)">
<path d="M395.04,1031.01L397.33,1023.5M400.25,1010.66L404.35,984.13M405.9,971.03L410.24,917.42" fill="none" stroke="#000" stroke-width="2.2" stroke-linecap="round"/>
<circle cx="390.07" cy="1042.96" r="0.91" fill="#000"/>
<path d="M419.62,917.65L421.66,1232.11" fill="none" stroke="#000" stroke-width="2.2" stroke-linejoin="round" />
<path d="M474.76,1232.11L506.75,1227.68" fill="none" stroke="#000" stroke-width="1" stroke-linejoin="round" />
<rect x="400.46" y="972.71" width="9.8" height="9.8" fill="#fff" stroke="#3a3a3a" stroke-width="1"/>
<rect x="394.34" y="1012.28" width="9.8" height="9.8" fill="#fff" stroke="#3a3a3a" stroke-width="1"/>
<rect x="388.22" y="1032.43" width="9.8" height="9.8" fill="#fff" stroke="#3a3a3a" stroke-width="1"/>
<rect x="382.11" y="1043.7" width="9.8" height="9.8" fill="#fff" stroke="#3a3a3a" stroke-width="1"/>
<rect x="375.99" y="1050.1" width="9.8" height="9.8" fill="#fff" stroke="#3a3a3a" stroke-width="1"/>
<rect x="369.87" y="1053.44" width="9.8" height="9.8" fill="#fff" stroke="#3a3a3a" stroke-width="1"/>
<rect x="363.75" y="1056.1" width="9.8" height="9.8" fill="#fff" stroke="#3a3a3a" stroke-width="1"/>
<rect x="357.63" y="1057.43" width="9.8" height="9.8" fill="#fff" stroke="#3a3a3a" stroke-width="1"/>
<rect x="351.51" y="1058.41" width="9.8" height="9.8" fill="#fff" stroke="#3a3a3a" stroke-width="1"/>
<rect x="345.39" y="1058.4" width="9.8" height="9.8" fill="#fff" stroke="#3a3a3a" stroke-width="1"/>
<rect x="339.27" y="1058.17" width="9.8" height="9.8" fill="#fff" stroke="#3a3a3a" stroke-width="1"/>
<rect x="333.15" y="1057.62" width="9.8" height="9.8" fill="#fff" stroke="#3a3a3a" stroke-width="1"/>
<rect x="327.03" y="1056.93" width="9.8" height="9.8" fill="#fff" stroke="#3a3a3a" stroke-width="1"/>
<rect x="320.91" y="1056.28" width="9.8" height="9.8" fill="#fff" stroke="#3a3a3a" stroke-width="1"/>
<rect x="314.8" y="1055.69" width="9.8" height="9.8" fill="#fff" stroke="#3a3a3a" stroke-width="1"/>
<rect x="308.68" y="1055.05" width="9.8" height="9.8" fill="#fff" stroke="#3a3a3a" stroke-width="1"/>
<rect x="302.56" y="1054.26" width="9.8" height="9.8" fill="#fff" stroke="#3a3a3a" stroke-width="1"/>
<rect x="296.44" y="1052.93" width="9.8" height="9.8" fill="#fff" stroke="#3a3a3a" stroke-width="1"/>
<rect x="290.32" y="1052.34" width="9.8" height="9.8" fill="#fff" stroke="#3a3a3a" stroke-width="1"/>
<rect x="284.2" y="1053.2" width="9.8" height="9.8" fill="#fff" stroke="#3a3a3a" stroke-width="1"/>
<rect x="278.08" y="1051.77" width="9.8" height="9.8" fill="#fff" stroke="#3a3a3a" stroke-width="1"/>
<rect x="271.96" y="1048.3" width="9.8" height="9.8" fill="#fff" stroke="#3a3a3a" stroke-width="1"/>
<rect x="265.84" y="1048.86" width="9.8" height="9.8" fill="#fff" stroke="#3a3a3a" stroke-width="1"/>
<rect x="259.72" y="1048.59" width="9.8" height="9.8" fill="#fff" stroke="#3a3a3a" stroke-width="1"/>
<rect x="253.61" y="1047.98" width="9.8" height="9.8" fill="#fff" stroke="#3a3a3a" stroke-width="1"/>
<rect x="247.49" y="1047.09" width="9.8" height="9.8" fill="#fff" stroke="#3a3a3a" stroke-width="1"/>
<rect x="241.37" y="1045.97" width="9.8" height="9.8" fill="#fff" stroke="#3a3a3a" stroke-width="1"/>
<rect x="235.25" y="1044.68" width="9.8" height="9.8" fill="#fff" stroke="#3a3a3a" stroke-width="1"/>
<rect x="229.13" y="1043.27" width="9.8" height="9.8" fill="#fff" stroke="#3a3a3a" stroke-width="1"/>
<rect x="223.01" y="1041.78" width="9.8" height="9.8" fill="#fff" stroke="#3a3a3a" stroke-width="1"/>
<rect x="216.89" y="1040.27" width="9.8" height="9.8" fill="#fff" stroke="#3a3a3a" stroke-width="1"/>
<rect x="210.77" y="1038.79" width="9.8" height="9.8" fill="#fff" stroke="#3a3a3a" stroke-width="1"/>
<rect x="204.65" y="1037.4" width="9.8" height="9.8" fill="#fff" stroke="#3a3a3a" stroke-width="1"/>
<rect x="198.53" y="1036.13" width="9.8" height="9.8" fill="#fff" stroke="#3a3a3a" stroke-width="1"/>
<rect x="192.41" y="1034.92" width="9.8" height="9.8" fill="#fff" stroke="#3a3a3a" stroke-width="1"/>
<rect x="186.3" y="1033.69" width="9.8" height="9.8" fill="#fff" stroke="#3a3a3a" stroke-width="1"/>
<rect x="180.18" y="1032.44" width="9.8" height="9.8" fill="#fff" stroke="#3a3a3a" stroke-width="1"/>
<rect x="174.06" y="1031.18" width="9.8" height="9.8" fill="#fff" stroke="#3a3a3a" stroke-width="1"/>
<rect x="167.94" y="1029.9" width="9.8" height="9.8" fill="#fff" stroke="#3a3a3a" stroke-width="1"/>
<rect x="161.82" y="1028.61" width="9.8" height="9.8" fill="#fff" stroke="#3a3a3a" stroke-width="1"/>
<rect x="155.7" y="1027.31" width="9.8" height="9.8" fill="#fff" stroke="#3a3a3a" stroke-width="1"/>
<rect x="149.58" y="1025.99" width="9.8" height="9.8" fill="#fff" stroke="#3a3a3a" stroke-width="1"/>
<rect x="143.46" y="1024.67" width="9.8" height="9.8" fill="#fff" stroke="#3a3a3a" stroke-width="1"/>
<rect x="137.34" y="1023.35" width="9.8" height="9.8" fill="#fff" stroke="#3a3a3a" stroke-width="1"/>
<rect x="131.22" y="1021.99" width="9.8" height="9.8" fill="#fff" stroke="#3a3a3a" stroke-width="1"/>
<rect x="125.1" y="1020.63" width="9.8" height="9.8" fill="#fff" stroke="#3a3a3a" stroke-width="1"/>
<rect x="476.32" y="1227.89" width="9.8" height="9.8" fill="#fff" stroke="#888" stroke-width="1"/>
<rect x="482.45" y="1227.21" width="9.8" height="9.8" fill="#fff" stroke="#888" stroke-width="1"/>
<rect x="488.57" y="1226.19" width="9.8" height="9.8" fill="#fff" stroke="#888" stroke-width="1"/>
<rect x="495.38" y="1225.17" width="9.8" height="9.8" fill="#fff" stroke="#888" stroke-width="1"/>
<rect x="501.85" y="1224.14" width="9.8" height="9.8" fill="#fff" stroke="#888" stroke-width="1"/>
</g>
<rect x="128.9" y="919.4" width="377.3" height="312" fill="none" stroke="#000" stroke-width="3.6"/>
<line x1="127.1" y1="919.4" x2="122.9" y2="919.4" stroke="#000" stroke-width="3.2" />
<line x1="127.1" y1="997.4" x2="122.9" y2="997.4" stroke="#000" stroke-width="3.2" />
<line x1="127.1" y1="1075.4" x2="122.9" y2="1075.4" stroke="#000" stroke-width="3.2" />
<line x1="127.1" y1="1153.4" x2="122.9" y2="1153.4" stroke="#000" stroke-width="3.2" />
<line x1="127.1" y1="1231.4" x2="122.9" y2="1231.4" stroke="#000" stroke-width="3.2" />
<line x1="127.1" y1="958.4" x2="125.3" y2="958.4" stroke="#000" stroke-width="2.4" />
<line x1="127.1" y1="1036.4" x2="125.3" y2="1036.4" stroke="#000" stroke-width="2.4" />
<line x1="127.1" y1="1114.4" x2="125.3" y2="1114.4" stroke="#000" stroke-width="2.4" />
<line x1="127.1" y1="1192.4" x2="125.3" y2="1192.4" stroke="#000" stroke-width="2.4" />
<line x1="128.9" y1="1233.2" x2="128.9" y2="1237.4" stroke="#000" stroke-width="3.2" />
<line x1="204.36" y1="1233.2" x2="204.36" y2="1237.4" stroke="#000" stroke-width="3.2" />
<line x1="279.82" y1="1233.2" x2="279.82" y2="1237.4" stroke="#000" stroke-width="3.2" />
<line x1="355.28" y1="1233.2" x2="355.28" y2="1237.4" stroke="#000" stroke-width="3.2" />
<line x1="430.74" y1="1233.2" x2="430.74" y2="1237.4" stroke="#000" stroke-width="3.2" />
<line x1="506.2" y1="1233.2" x2="506.2" y2="1237.4" stroke="#000" stroke-width="3.2" />
<line x1="151.62" y1="1233.2" x2="151.62" y2="1235.2" stroke="#000" stroke-width="2.1" />
<line x1="164.9" y1="1233.2" x2="164.9" y2="1235.2" stroke="#000" stroke-width="2.1" />
<line x1="174.33" y1="1233.2" x2="174.33" y2="1235.2" stroke="#000" stroke-width="2.1" />
<line x1="181.64" y1="1233.2" x2="181.64" y2="1235.2" stroke="#000" stroke-width="2.1" />
<line x1="187.62" y1="1233.2" x2="187.62" y2="1235.2" stroke="#000" stroke-width="2.1" />
<line x1="192.67" y1="1233.2" x2="192.67" y2="1235.2" stroke="#000" stroke-width="2.1" />
<line x1="197.05" y1="1233.2" x2="197.05" y2="1235.2" stroke="#000" stroke-width="2.1" />
<line x1="200.91" y1="1233.2" x2="200.91" y2="1235.2" stroke="#000" stroke-width="2.1" />
<line x1="227.08" y1="1233.2" x2="227.08" y2="1235.2" stroke="#000" stroke-width="2.1" />
<line x1="240.36" y1="1233.2" x2="240.36" y2="1235.2" stroke="#000" stroke-width="2.1" />
<line x1="249.79" y1="1233.2" x2="249.79" y2="1235.2" stroke="#000" stroke-width="2.1" />
<line x1="257.1" y1="1233.2" x2="257.1" y2="1235.2" stroke="#000" stroke-width="2.1" />
<line x1="263.08" y1="1233.2" x2="263.08" y2="1235.2" stroke="#000" stroke-width="2.1" />
<line x1="268.13" y1="1233.2" x2="268.13" y2="1235.2" stroke="#000" stroke-width="2.1" />
<line x1="272.51" y1="1233.2" x2="272.51" y2="1235.2" stroke="#000" stroke-width="2.1" />
<line x1="276.37" y1="1233.2" x2="276.37" y2="1235.2" stroke="#000" stroke-width="2.1" />
<line x1="302.54" y1="1233.2" x2="302.54" y2="1235.2" stroke="#000" stroke-width="2.1" />
<line x1="315.82" y1="1233.2" x2="315.82" y2="1235.2" stroke="#000" stroke-width="2.1" />
<line x1="325.25" y1="1233.2" x2="325.25" y2="1235.2" stroke="#000" stroke-width="2.1" />
<line x1="332.56" y1="1233.2" x2="332.56" y2="1235.2" stroke="#000" stroke-width="2.1" />
<line x1="338.54" y1="1233.2" x2="338.54" y2="1235.2" stroke="#000" stroke-width="2.1" />
<line x1="343.59" y1="1233.2" x2="343.59" y2="1235.2" stroke="#000" stroke-width="2.1" />
<line x1="347.97" y1="1233.2" x2="347.97" y2="1235.2" stroke="#000" stroke-width="2.1" />
<line x1="351.83" y1="1233.2" x2="351.83" y2="1235.2" stroke="#000" stroke-width="2.1" />
<line x1="378" y1="1233.2" x2="378" y2="1235.2" stroke="#000" stroke-width="2.1" />
<line x1="391.28" y1="1233.2" x2="391.28" y2="1235.2" stroke="#000" stroke-width="2.1" />
<line x1="400.71" y1="1233.2" x2="400.71" y2="1235.2" stroke="#000" stroke-width="2.1" />
<line x1="408.02" y1="1233.2" x2="408.02" y2="1235.2" stroke="#000" stroke-width="2.1" />
<line x1="414" y1="1233.2" x2="414" y2="1235.2" stroke="#000" stroke-width="2.1" />
<line x1="419.05" y1="1233.2" x2="419.05" y2="1235.2" stroke="#000" stroke-width="2.1" />
<line x1="423.43" y1="1233.2" x2="423.43" y2="1235.2" stroke="#000" stroke-width="2.1" />
<line x1="427.29" y1="1233.2" x2="427.29" y2="1235.2" stroke="#000" stroke-width="2.1" />
<line x1="453.46" y1="1233.2" x2="453.46" y2="1235.2" stroke="#000" stroke-width="2.1" />
<line x1="466.74" y1="1233.2" x2="466.74" y2="1235.2" stroke="#000" stroke-width="2.1" />
<line x1="476.17" y1="1233.2" x2="476.17" y2="1235.2" stroke="#000" stroke-width="2.1" />
<line x1="483.48" y1="1233.2" x2="483.48" y2="1235.2" stroke="#000" stroke-width="2.1" />
<line x1="489.46" y1="1233.2" x2="489.46" y2="1235.2" stroke="#000" stroke-width="2.1" />
<line x1="494.51" y1="1233.2" x2="494.51" y2="1235.2" stroke="#000" stroke-width="2.1" />
<line x1="498.89" y1="1233.2" x2="498.89" y2="1235.2" stroke="#000" stroke-width="2.1" />
<line x1="502.75" y1="1233.2" x2="502.75" y2="1235.2" stroke="#000" stroke-width="2.1" />
<text transform="translate(119.1 929.6) scale(0.98 1.0)" font-size="32.19" text-anchor="end" fill="#000" stroke="#000" stroke-width="0.6" font-weight="bold" >2.0k</text>
<text transform="translate(119.1 1007.6) scale(0.98 1.0)" font-size="32.19" text-anchor="end" fill="#000" stroke="#000" stroke-width="0.6" font-weight="bold" >1.5k</text>
<text transform="translate(119.1 1085.6) scale(0.98 1.0)" font-size="32.19" text-anchor="end" fill="#000" stroke="#000" stroke-width="0.6" font-weight="bold" >1.0k</text>
<text transform="translate(119.1 1163.6) scale(0.98 1.0)" font-size="32.19" text-anchor="end" fill="#000" stroke="#000" stroke-width="0.6" font-weight="bold" >500.0</text>
<text transform="translate(119.1 1241.6) scale(0.98 1.0)" font-size="32.19" text-anchor="end" fill="#000" stroke="#000" stroke-width="0.6" font-weight="bold" >0.0</text>
<text transform="translate(128.9 1271.8) scale(0.98 1.05)" font-size="32.19" text-anchor="middle" fill="#000" stroke="#000" stroke-width="0.6" font-weight="bold" >10<tspan font-size="21.57" dy="-12.47">0</tspan><tspan dy="12.47" font-size="32.19">&#8203;</tspan></text>
<text transform="translate(204.36 1271.8) scale(0.98 1.05)" font-size="32.19" text-anchor="middle" fill="#000" stroke="#000" stroke-width="0.6" font-weight="bold" >10<tspan font-size="21.57" dy="-12.47">1</tspan><tspan dy="12.47" font-size="32.19">&#8203;</tspan></text>
<text transform="translate(279.82 1271.8) scale(0.98 1.05)" font-size="32.19" text-anchor="middle" fill="#000" stroke="#000" stroke-width="0.6" font-weight="bold" >10<tspan font-size="21.57" dy="-12.47">2</tspan><tspan dy="12.47" font-size="32.19">&#8203;</tspan></text>
<text transform="translate(355.28 1271.8) scale(0.98 1.05)" font-size="32.19" text-anchor="middle" fill="#000" stroke="#000" stroke-width="0.6" font-weight="bold" >10<tspan font-size="21.57" dy="-12.47">3</tspan><tspan dy="12.47" font-size="32.19">&#8203;</tspan></text>
<text transform="translate(430.74 1271.8) scale(0.98 1.05)" font-size="32.19" text-anchor="middle" fill="#000" stroke="#000" stroke-width="0.6" font-weight="bold" >10<tspan font-size="21.57" dy="-12.47">4</tspan><tspan dy="12.47" font-size="32.19">&#8203;</tspan></text>
<text transform="translate(506.2 1271.8) scale(0.98 1.05)" font-size="32.19" text-anchor="middle" fill="#000" stroke="#000" stroke-width="0.6" font-weight="bold" >10<tspan font-size="21.57" dy="-12.47">5</tspan><tspan dy="12.47" font-size="32.19">&#8203;</tspan></text>
<text transform="translate(324.2 1307.4) scale(0.99 1.0)" font-size="32.19" text-anchor="middle" fill="#000" stroke="#000" stroke-width="0.3" font-weight="bold" >Freq/Hz</text>
<text transform="translate(29.4 1036.8) rotate(-90) scale(0.99 1.0)" font-size="32.19" text-anchor="middle" fill="#000" stroke="#000" stroke-width="0.3" font-weight="bold" >C<tspan font-size="19.96" dy="7.08">A</tspan><tspan dy="-7.08" font-size="32.19">&#8203;</tspan> /&#181;F cm<tspan font-size="19.96" dy="-13.52">-2</tspan><tspan dy="13.52" font-size="32.19">&#8203;</tspan></text>
<text transform="translate(570 904) scale(1.0 0.96)" font-size="51.62" text-anchor="start" fill="#000" stroke="#000" stroke-width="0.3" font-weight="bold" >h</text>
<defs><linearGradient id="gh" x1="0" y1="0" x2="0" y2="1"><stop offset="0" stop-color="#fff8e6"/><stop offset="0.35" stop-color="#ffeec0"/><stop offset="0.7" stop-color="#ffe597"/><stop offset="0.93" stop-color="#ffdf86"/><stop offset="1" stop-color="#ffe291"/></linearGradient></defs>
<rect x="690.4" y="917" width="395.5" height="54.5" fill="url(#gh)"/>
<text transform="translate(922.11 955) scale(0.99 1.0)" font-size="31.75" text-anchor="middle" fill="#000" stroke="#000" stroke-width="0.3" font-weight="bold" >This work</text>
<polygon points="1010.9,945.2 1013.96,953.99 1023.26,954.18 1015.85,959.81 1018.54,968.72 1010.9,963.4 1003.26,968.72 1005.95,959.81 998.54,954.18 1007.84,953.99" fill="#ff0000"/>
<polygon points="1074.91,983.78 1068.94,973.43 1080.89,973.43" fill="#8e8c1e"/>
<text transform="translate(1057.56 996.1) scale(0.98 1.05)" font-size="22.2" text-anchor="middle" fill="#000" stroke="#000" stroke-width="0.6" font-weight="bold" >11</text>
<polygon points="1051.34,1027.25 1061.69,1021.27 1061.69,1033.23" fill="#ff6a0d"/>
<text transform="translate(1053.13 1049.87) scale(0.98 1.05)" font-size="22.2" text-anchor="middle" fill="#000" stroke="#000" stroke-width="0.6" font-weight="bold" >33</text>
<circle cx="1006.85" cy="1107.57" r="5.1" fill="#f0404c"/>
<text transform="translate(1020.46 1101.6) scale(0.98 1.05)" font-size="22.2" text-anchor="middle" fill="#000" stroke="#000" stroke-width="0.6" font-weight="bold" >31</text>
<polygon points="912.92,1122.07 919.52,1128.67 912.92,1135.27 906.32,1128.67" fill="#b070e0"/>
<text transform="translate(894.88 1128.15) scale(0.98 1.05)" font-size="22.2" text-anchor="middle" fill="#000" stroke="#000" stroke-width="0.6" font-weight="bold" >30</text>
<polygon points="990.17,1139.31 984.2,1128.96 996.15,1128.96" fill="#7a4f4f"/>
<text transform="translate(974.52 1127.13) rotate(20) scale(0.98 1.05)" font-size="22.2" text-anchor="middle" fill="#000" stroke="#000" stroke-width="0.6" font-weight="bold" font-style="italic" >47</text>
<polygon points="1002.42,1141.01 996.45,1130.66 1008.4,1130.66" fill="#2eb872"/>
<text transform="translate(1018.76 1140.06) rotate(20) scale(0.98 1.05)" font-size="22.2" text-anchor="middle" fill="#000" stroke="#000" stroke-width="0.6" font-weight="bold" font-style="italic" >32</text>
<text transform="translate(943.89 1151.97) rotate(12) scale(0.98 1.05)" font-size="22.2" text-anchor="middle" fill="#000" stroke="#000" stroke-width="0.6" font-weight="bold" font-style="italic" >21</text>
<polygon points="969.51,1159.98 959.16,1165.95 959.16,1154" fill="#1fc8c8"/>
<text transform="translate(974.18 1156.39) scale(0.98 1.05)" font-size="22.2" text-anchor="middle" fill="#000" stroke="#000" stroke-width="0.6" font-weight="bold" >13</text>
<line x1="995.32" y1="1147.09" x2="1006.12" y2="1157.89" stroke="#333" stroke-width="0.9" />
<line x1="995.32" y1="1157.89" x2="1006.12" y2="1147.09" stroke="#333" stroke-width="0.9" />
<text transform="translate(1009.23 1168.99) scale(0.98 1.05)" font-size="22.2" text-anchor="middle" fill="#000" stroke="#000" stroke-width="0.6" font-weight="bold" >4</text>
<circle cx="955.46" cy="1165.08" r="5.1" fill="#c8a11e"/>
<text transform="translate(906.11 1171.37) rotate(62) scale(0.98 1.05)" font-size="22.2" text-anchor="middle" fill="#000" stroke="#000" stroke-width="0.6" font-weight="bold" font-style="italic" >49</text>
<text transform="translate(929.93 1175.11) rotate(50) scale(0.98 1.05)" font-size="22.2" text-anchor="middle" fill="#000" stroke="#000" stroke-width="0.6" font-weight="bold" font-style="italic" >23</text>
<polygon points="966.69,1169.97 972.4,1174.12 970.22,1180.83 963.16,1180.83 960.98,1174.12" fill="#ff6a0d"/>
<text transform="translate(984.39 1182.6) scale(0.98 1.05)" font-size="22.2" text-anchor="middle" fill="#000" stroke="#000" stroke-width="0.6" font-weight="bold" >14</text>
<polygon points="793.12,1179.28 799.1,1189.63 787.15,1189.63" fill="#1fc8c8"/>
<text transform="translate(778.15 1180.9) scale(0.98 1.05)" font-size="22.2" text-anchor="middle" fill="#000" stroke="#000" stroke-width="0.6" font-weight="bold" >19</text>
<polygon points="829.1,1206.94 839.45,1200.97 839.45,1212.92" fill="#c8a11e"/>
<text transform="translate(830.9 1197.23) scale(0.98 1.05)" font-size="22.2" text-anchor="middle" fill="#000" stroke="#000" stroke-width="0.6" font-weight="bold" >22</text>
<polygon points="870.72,1193.58 876.69,1203.93 864.74,1203.93" fill="#1c5fd6"/>
<text transform="translate(864.25 1195.19) scale(0.98 1.05)" font-size="22.2" text-anchor="middle" fill="#000" stroke="#000" stroke-width="0.6" font-weight="bold" >25</text>
<text transform="translate(903.73 1195.19) scale(0.98 1.05)" font-size="22.2" text-anchor="middle" fill="#000" stroke="#000" stroke-width="0.6" font-weight="bold" >26</text>
<polygon points="931.98,1179.98 933.43,1184.18 937.87,1184.27 934.34,1186.95 935.62,1191.2 931.98,1188.66 928.33,1191.2 929.62,1186.95 926.08,1184.27 930.52,1184.18" fill="#8e8c1e"/>
<line x1="915.87" y1="1191.29" x2="924.27" y2="1191.29" stroke="#80d040" stroke-width="0.9" />
<line x1="920.07" y1="1187.09" x2="920.07" y2="1195.49" stroke="#80d040" stroke-width="0.9" />
<line x1="918.02" y1="1195.01" x2="924.83" y2="1195.01" stroke="#4080e0" stroke-width="1" />
<circle cx="951.38" cy="1184.12" r="5.1" fill="#5a8fd0"/><circle cx="950.35" cy="1182.76" r="1.9" fill="#d8e8ff"/>
<line x1="960.05" y1="1177.31" x2="960.05" y2="1186.5" stroke="#7fdcaa" stroke-width="1.3" />
<line x1="929.16" y1="1192.31" x2="939.56" y2="1192.31" stroke="#f0404c" stroke-width="0.9" />
<line x1="930.68" y1="1188.63" x2="938.04" y2="1195.99" stroke="#f0404c" stroke-width="0.9" />
<line x1="934.36" y1="1187.11" x2="934.36" y2="1197.51" stroke="#f0404c" stroke-width="0.9" />
<line x1="938.04" y1="1188.63" x2="930.68" y2="1195.99" stroke="#f0404c" stroke-width="0.9" />
<polygon points="916.32,1193.09 920.65,1195.59 920.65,1200.59 916.32,1203.09 911.99,1200.59 911.99,1195.59" fill="#7a4f4f"/>
<text transform="translate(947.97 1206.42) rotate(10) scale(0.98 1.05)" font-size="22.2" text-anchor="middle" fill="#000" stroke="#000" stroke-width="0.6" font-weight="bold" font-style="italic" >18</text>
<text transform="translate(973.84 1206.42) rotate(13) scale(0.98 1.05)" font-size="22.2" text-anchor="middle" fill="#000" stroke="#000" stroke-width="0.6" font-weight="bold" font-style="italic" >34</text>
<text transform="translate(902.71 1216.63) scale(0.98 1.05)" font-size="22.2" text-anchor="middle" fill="#000" stroke="#000" stroke-width="0.6" font-weight="bold" >43</text>
<text transform="translate(924.83 1219.01) rotate(35) scale(0.98 1.05)" font-size="22.2" text-anchor="middle" fill="#000" stroke="#000" stroke-width="0.6" font-weight="bold" font-style="italic" >24</text>
<rect x="754.97" y="1207.93" width="9.6" height="9.6" fill="#b070e0"/>
<text transform="translate(742.76 1216.63) scale(0.98 1.05)" font-size="22.2" text-anchor="middle" fill="#000" stroke="#000" stroke-width="0.6" font-weight="bold" >32</text>
<rect x="690.4" y="917" width="395.5" height="318.2" fill="none" stroke="#000" stroke-width="3.6"/>
<line x1="688.6" y1="917" x2="684.4" y2="917" stroke="#000" stroke-width="3.2" />
<line x1="688.6" y1="1016.3" x2="684.4" y2="1016.3" stroke="#000" stroke-width="3.2" />
<line x1="688.6" y1="1115.7" x2="684.4" y2="1115.7" stroke="#000" stroke-width="3.2" />
<line x1="688.6" y1="1215.1" x2="684.4" y2="1215.1" stroke="#000" stroke-width="3.2" />
<line x1="688.6" y1="966.7" x2="686.8" y2="966.7" stroke="#000" stroke-width="2.4" />
<line x1="688.6" y1="1066" x2="686.8" y2="1066" stroke="#000" stroke-width="2.4" />
<line x1="688.6" y1="1165.4" x2="686.8" y2="1165.4" stroke="#000" stroke-width="2.4" />
<line x1="691" y1="1237" x2="691" y2="1241.2" stroke="#000" stroke-width="3.2" />
<line x1="845.9" y1="1237" x2="845.9" y2="1241.2" stroke="#000" stroke-width="3.2" />
<line x1="1000.7" y1="1237" x2="1000.7" y2="1241.2" stroke="#000" stroke-width="3.2" />
<line x1="737" y1="1237" x2="737" y2="1239" stroke="#000" stroke-width="2.1" />
<line x1="764.26" y1="1237" x2="764.26" y2="1239" stroke="#000" stroke-width="2.1" />
<line x1="783.6" y1="1237" x2="783.6" y2="1239" stroke="#000" stroke-width="2.1" />
<line x1="798.6" y1="1237" x2="798.6" y2="1239" stroke="#000" stroke-width="2.1" />
<line x1="810.86" y1="1237" x2="810.86" y2="1239" stroke="#000" stroke-width="2.1" />
<line x1="821.22" y1="1237" x2="821.22" y2="1239" stroke="#000" stroke-width="2.1" />
<line x1="830.2" y1="1237" x2="830.2" y2="1239" stroke="#000" stroke-width="2.1" />
<line x1="838.12" y1="1237" x2="838.12" y2="1239" stroke="#000" stroke-width="2.1" />
<line x1="891.8" y1="1237" x2="891.8" y2="1239" stroke="#000" stroke-width="2.1" />
<line x1="919.06" y1="1237" x2="919.06" y2="1239" stroke="#000" stroke-width="2.1" />
<line x1="938.4" y1="1237" x2="938.4" y2="1239" stroke="#000" stroke-width="2.1" />
<line x1="953.4" y1="1237" x2="953.4" y2="1239" stroke="#000" stroke-width="2.1" />
<line x1="965.66" y1="1237" x2="965.66" y2="1239" stroke="#000" stroke-width="2.1" />
<line x1="976.02" y1="1237" x2="976.02" y2="1239" stroke="#000" stroke-width="2.1" />
<line x1="985" y1="1237" x2="985" y2="1239" stroke="#000" stroke-width="2.1" />
<line x1="992.92" y1="1237" x2="992.92" y2="1239" stroke="#000" stroke-width="2.1" />
<line x1="1046.6" y1="1237" x2="1046.6" y2="1239" stroke="#000" stroke-width="2.1" />
<line x1="1073.86" y1="1237" x2="1073.86" y2="1239" stroke="#000" stroke-width="2.1" />
<text transform="translate(679.5 927.8) scale(0.98 1.055)" font-size="35.74" text-anchor="end" fill="#000" stroke="#000" stroke-width="0.6" font-weight="bold" >1.5</text>
<text transform="translate(679.5 1027.1) scale(0.98 1.055)" font-size="35.74" text-anchor="end" fill="#000" stroke="#000" stroke-width="0.6" font-weight="bold" >1.0</text>
<text transform="translate(679.5 1126.5) scale(0.98 1.055)" font-size="35.74" text-anchor="end" fill="#000" stroke="#000" stroke-width="0.6" font-weight="bold" >0.5</text>
<text transform="translate(679.5 1225.9) scale(0.98 1.055)" font-size="35.74" text-anchor="end" fill="#000" stroke="#000" stroke-width="0.6" font-weight="bold" >0.0</text>
<text transform="translate(691 1274.2) scale(0.98 1.055)" font-size="35.74" text-anchor="middle" fill="#000" stroke="#000" stroke-width="0.6" font-weight="bold" >0.01</text>
<text transform="translate(845.9 1274.2) scale(0.98 1.055)" font-size="35.74" text-anchor="middle" fill="#000" stroke="#000" stroke-width="0.6" font-weight="bold" >0.1</text>
<text transform="translate(1000.7 1274.2) scale(0.98 1.055)" font-size="35.74" text-anchor="middle" fill="#000" stroke="#000" stroke-width="0.6" font-weight="bold" >1</text>
<text transform="translate(899.8 1306.8) scale(0.99 1.0)" font-size="36.63" text-anchor="middle" fill="#000" stroke="#000" stroke-width="0.3" font-weight="bold" >C<tspan font-size="24.18" dy="8.06">A,120</tspan><tspan dy="-8.06" font-size="36.63">&#8203;</tspan> /mF cm<tspan font-size="24.18" dy="-15.38">-2</tspan><tspan dy="15.38" font-size="36.63">&#8203;</tspan></text>
<text transform="translate(614.5 1090.4) rotate(-90) scale(0.99 1.0)" font-size="36.63" text-anchor="middle" fill="#000" stroke="#000" stroke-width="0.3" font-weight="bold" >E<tspan font-size="24.18" dy="8.06">A,120</tspan><tspan dy="-8.06" font-size="36.63">&#8203;</tspan> /mF V<tspan font-size="24.18" dy="-15.38">2</tspan><tspan dy="15.38" font-size="36.63">&#8203;</tspan> cm<tspan font-size="24.18" dy="-15.38">-2</tspan><tspan dy="15.38" font-size="36.63">&#8203;</tspan></text>
<text transform="translate(1166.3 904.4) scale(1.0 0.98)" font-size="55.5" text-anchor="start" fill="#000" stroke="#000" stroke-width="0.3" font-weight="bold" >i</text>
<clipPath id="ci"><rect x="1271.6" y="919.3" width="370.20000000000005" height="306.5"/></clipPath><g clip-path="url(#ci)">
<path d="M1280.06,989.62L1281.85,989.69M1298.43,988.62L1300.44,988.29M1317,987.53L1318.83,987.67M1335.5,988.29L1337.28,988.29M1353.98,988.29L1355.76,988.29M1372.45,987.82L1374.26,987.72M1390.91,988.03L1392.76,988.2M1409.42,988.97L1411.2,988.97M1427.9,989.13L1429.69,989.16M1446.38,989.62L1448.17,989.69M1464.85,989.54L1466.66,989.44M1483.31,988.2L1485.16,988.03M1501.82,986.95L1503.61,986.88M1520.14,988.24L1522.25,988.67M1538.71,989.27L1540.63,989.02M1557.26,987.94L1559.04,987.94M1575.73,988.41L1577.54,988.51M1594.2,989.59L1596.03,989.72M1612.59,988.97L1614.6,988.63M1631.17,986.79L1632.98,986.69" fill="none" stroke="#000" stroke-width="3.1" stroke-linecap="round"/>
<rect x="1267.11" y="984.71" width="9.2" height="9.2" fill="#fff" stroke="#2a2a2a" stroke-width="1"/>
<rect x="1285.59" y="985.4" width="9.2" height="9.2" fill="#fff" stroke="#2a2a2a" stroke-width="1"/>
<rect x="1304.07" y="982.31" width="9.2" height="9.2" fill="#fff" stroke="#2a2a2a" stroke-width="1"/>
<rect x="1322.55" y="983.69" width="9.2" height="9.2" fill="#fff" stroke="#2a2a2a" stroke-width="1"/>
<rect x="1341.03" y="983.69" width="9.2" height="9.2" fill="#fff" stroke="#2a2a2a" stroke-width="1"/>
<rect x="1359.51" y="983.69" width="9.2" height="9.2" fill="#fff" stroke="#2a2a2a" stroke-width="1"/>
<rect x="1377.99" y="982.66" width="9.2" height="9.2" fill="#fff" stroke="#2a2a2a" stroke-width="1"/>
<rect x="1396.47" y="984.37" width="9.2" height="9.2" fill="#fff" stroke="#2a2a2a" stroke-width="1"/>
<rect x="1414.95" y="984.37" width="9.2" height="9.2" fill="#fff" stroke="#2a2a2a" stroke-width="1"/>
<rect x="1433.43" y="984.71" width="9.2" height="9.2" fill="#fff" stroke="#2a2a2a" stroke-width="1"/>
<rect x="1451.91" y="985.4" width="9.2" height="9.2" fill="#fff" stroke="#2a2a2a" stroke-width="1"/>
<rect x="1470.39" y="984.37" width="9.2" height="9.2" fill="#fff" stroke="#2a2a2a" stroke-width="1"/>
<rect x="1488.87" y="982.66" width="9.2" height="9.2" fill="#fff" stroke="#2a2a2a" stroke-width="1"/>
<rect x="1507.35" y="981.97" width="9.2" height="9.2" fill="#fff" stroke="#2a2a2a" stroke-width="1"/>
<rect x="1525.83" y="985.74" width="9.2" height="9.2" fill="#fff" stroke="#2a2a2a" stroke-width="1"/>
<rect x="1544.31" y="983.34" width="9.2" height="9.2" fill="#fff" stroke="#2a2a2a" stroke-width="1"/>
<rect x="1562.79" y="983.34" width="9.2" height="9.2" fill="#fff" stroke="#2a2a2a" stroke-width="1"/>
<rect x="1581.27" y="984.37" width="9.2" height="9.2" fill="#fff" stroke="#2a2a2a" stroke-width="1"/>
<rect x="1599.75" y="985.74" width="9.2" height="9.2" fill="#fff" stroke="#2a2a2a" stroke-width="1"/>
<rect x="1618.23" y="982.66" width="9.2" height="9.2" fill="#fff" stroke="#2a2a2a" stroke-width="1"/>
<rect x="1636.71" y="981.63" width="9.2" height="9.2" fill="#fff" stroke="#2a2a2a" stroke-width="1"/>
<path d="M1280.16,947.14L1281.74,947.14M1298.64,947.14L1300.22,947.14M1317.12,947.14L1318.7,947.14M1335.6,947.14L1337.18,947.14M1354.08,947.14L1355.66,947.14M1372.56,947.14L1374.14,947.14M1391.04,947.14L1392.62,947.14M1409.52,947.14L1411.1,947.14M1428,947.14L1429.58,947.14M1446.48,947.14L1448.06,947.14M1464.96,947.14L1466.54,947.14M1483.44,947.14L1485.02,947.14M1501.92,947.14L1503.5,947.14M1520.4,947.14L1521.98,947.14M1538.88,947.14L1540.46,947.14M1557.36,947.14L1558.94,947.14M1575.84,947.14L1577.42,947.14M1594.32,947.14L1595.9,947.14M1612.8,947.14L1614.38,947.14M1631.28,947.14L1632.86,947.14" fill="none" stroke="#f00" stroke-width="3.3" stroke-linecap="round"/>
<circle cx="1271.71" cy="947.14" r="4.75" fill="#fff" stroke="#f00" stroke-width="1"/>
<circle cx="1290.19" cy="947.14" r="4.75" fill="#fff" stroke="#f00" stroke-width="1"/>
<circle cx="1308.67" cy="947.14" r="4.75" fill="#fff" stroke="#f00" stroke-width="1"/>
<circle cx="1327.15" cy="947.14" r="4.75" fill="#fff" stroke="#f00" stroke-width="1"/>
<circle cx="1345.63" cy="947.14" r="4.75" fill="#fff" stroke="#f00" stroke-width="1"/>
<circle cx="1364.11" cy="947.14" r="4.75" fill="#fff" stroke="#f00" stroke-width="1"/>
<circle cx="1382.59" cy="947.14" r="4.75" fill="#fff" stroke="#f00" stroke-width="1"/>
<circle cx="1401.07" cy="947.14" r="4.75" fill="#fff" stroke="#f00" stroke-width="1"/>
<circle cx="1419.55" cy="947.14" r="4.75" fill="#fff" stroke="#f00" stroke-width="1"/>
<circle cx="1438.03" cy="947.14" r="4.75" fill="#fff" stroke="#f00" stroke-width="1"/>
<circle cx="1456.51" cy="947.14" r="4.75" fill="#fff" stroke="#f00" stroke-width="1"/>
<circle cx="1474.99" cy="947.14" r="4.75" fill="#fff" stroke="#f00" stroke-width="1"/>
<circle cx="1493.47" cy="947.14" r="4.75" fill="#fff" stroke="#f00" stroke-width="1"/>
<circle cx="1511.95" cy="947.14" r="4.75" fill="#fff" stroke="#f00" stroke-width="1"/>
<circle cx="1530.43" cy="947.14" r="4.75" fill="#fff" stroke="#f00" stroke-width="1"/>
<circle cx="1548.91" cy="947.14" r="4.75" fill="#fff" stroke="#f00" stroke-width="1"/>
<circle cx="1567.39" cy="947.14" r="4.75" fill="#fff" stroke="#f00" stroke-width="1"/>
<circle cx="1585.87" cy="947.14" r="4.75" fill="#fff" stroke="#f00" stroke-width="1"/>
<circle cx="1604.35" cy="947.14" r="4.75" fill="#fff" stroke="#f00" stroke-width="1"/>
<circle cx="1622.83" cy="947.14" r="4.75" fill="#fff" stroke="#f00" stroke-width="1"/>
<circle cx="1641.31" cy="947.14" r="4.75" fill="#fff" stroke="#f00" stroke-width="1"/>
</g>
<path d="M1641.8,919.3L1271.6,919.3L1271.6,1225.8L1641.8,1225.8" fill="none" stroke="#000" stroke-width="3.6" stroke-linejoin="round" />
<line x1="1641.8" y1="917.5" x2="1641.8" y2="1227.6" stroke="#f00" stroke-width="3.6" />
<line x1="1269.8" y1="989.5" x2="1265.6" y2="989.5" stroke="#000" stroke-width="3.2" />
<line x1="1269.8" y1="1107.6" x2="1265.6" y2="1107.6" stroke="#000" stroke-width="3.2" />
<line x1="1269.8" y1="1225.8" x2="1265.6" y2="1225.8" stroke="#000" stroke-width="3.2" />
<line x1="1269.8" y1="930.4" x2="1268" y2="930.4" stroke="#000" stroke-width="2.4" />
<line x1="1269.8" y1="1048.3" x2="1268" y2="1048.3" stroke="#000" stroke-width="2.4" />
<line x1="1269.8" y1="1166.1" x2="1268" y2="1166.1" stroke="#000" stroke-width="2.4" />
<line x1="1643.6" y1="947.1" x2="1647.8" y2="947.1" stroke="#f00" stroke-width="3.2" />
<line x1="1643.6" y1="1086.4" x2="1647.8" y2="1086.4" stroke="#f00" stroke-width="3.2" />
<line x1="1643.6" y1="1225.8" x2="1647.8" y2="1225.8" stroke="#f00" stroke-width="3.2" />
<line x1="1643.6" y1="1016.5" x2="1645.1" y2="1016.5" stroke="#f00" stroke-width="2.4" />
<line x1="1643.6" y1="1155.4" x2="1645.1" y2="1155.4" stroke="#f00" stroke-width="2.4" />
<line x1="1271.7" y1="1227.6" x2="1271.7" y2="1231.8" stroke="#000" stroke-width="3.2" />
<line x1="1363.9" y1="1227.6" x2="1363.9" y2="1231.8" stroke="#000" stroke-width="3.2" />
<line x1="1456.2" y1="1227.6" x2="1456.2" y2="1231.8" stroke="#000" stroke-width="3.2" />
<line x1="1548.7" y1="1227.6" x2="1548.7" y2="1231.8" stroke="#000" stroke-width="3.2" />
<line x1="1641.3" y1="1227.6" x2="1641.3" y2="1231.8" stroke="#000" stroke-width="3.2" />
<line x1="1317.8" y1="1227.6" x2="1317.8" y2="1229.4" stroke="#000" stroke-width="2.4" />
<line x1="1410.05" y1="1227.6" x2="1410.05" y2="1229.4" stroke="#000" stroke-width="2.4" />
<line x1="1502.45" y1="1227.6" x2="1502.45" y2="1229.4" stroke="#000" stroke-width="2.4" />
<line x1="1595" y1="1227.6" x2="1595" y2="1229.4" stroke="#000" stroke-width="2.4" />
<text transform="translate(1262.8 1000.1) scale(0.98 1.02)" font-size="32.19" text-anchor="end" fill="#000" stroke="#000" stroke-width="0.6" font-weight="bold" >100</text>
<text transform="translate(1262.8 1118.2) scale(0.98 1.02)" font-size="32.19" text-anchor="end" fill="#000" stroke="#000" stroke-width="0.6" font-weight="bold" >95</text>
<text transform="translate(1262.8 1236.4) scale(0.98 1.02)" font-size="32.19" text-anchor="end" fill="#000" stroke="#000" stroke-width="0.6" font-weight="bold" >90</text>
<text transform="translate(1650.6 957.5) scale(0.98 1.02)" font-size="32.19" text-anchor="start" fill="#f00" stroke="#f00" stroke-width="0.6" font-weight="bold" >100</text>
<text transform="translate(1650.6 1096.8) scale(0.98 1.02)" font-size="32.19" text-anchor="start" fill="#f00" stroke="#f00" stroke-width="0.6" font-weight="bold" >95</text>
<text transform="translate(1650.6 1236.2) scale(0.98 1.02)" font-size="32.19" text-anchor="start" fill="#f00" stroke="#f00" stroke-width="0.6" font-weight="bold" >90</text>
<text transform="translate(1271.7 1260.6) scale(0.98 1.05)" font-size="31.64" text-anchor="middle" fill="#000" stroke="#000" stroke-width="0.6" font-weight="bold" >0</text>
<text transform="translate(1363.9 1260.6) scale(0.98 1.05)" font-size="31.64" text-anchor="middle" fill="#000" stroke="#000" stroke-width="0.6" font-weight="bold" >5k</text>
<text transform="translate(1456.2 1260.6) scale(0.98 1.05)" font-size="31.64" text-anchor="middle" fill="#000" stroke="#000" stroke-width="0.6" font-weight="bold" >10k</text>
<text transform="translate(1548.7 1260.6) scale(0.98 1.05)" font-size="31.64" text-anchor="middle" fill="#000" stroke="#000" stroke-width="0.6" font-weight="bold" >15k</text>
<text transform="translate(1641.3 1260.6) scale(0.98 1.05)" font-size="31.64" text-anchor="middle" fill="#000" stroke="#000" stroke-width="0.6" font-weight="bold" >20k</text>
<text transform="translate(1452.6 1298.4) scale(0.99 1.0)" font-size="31.08" text-anchor="middle" fill="#000" stroke="#000" stroke-width="0.3" font-weight="bold" >Cycle number</text>
<text transform="translate(1193.9 1087.7) rotate(-90) scale(0.99 1.0)" font-size="31.64" text-anchor="middle" fill="#000" stroke="#000" stroke-width="0.3" font-weight="bold" >C<tspan font-size="20.6" dy="7.08">A, GCD</tspan><tspan dy="-7.08" font-size="32.19">&#8203;</tspan> retention/%</text>
<text transform="translate(1739 1090.3) rotate(-90) scale(0.99 1.0)" font-size="31.41" text-anchor="middle" fill="#000" stroke="#000" stroke-width="0.3" font-weight="bold" >Coulombic efficiency/%</text>
<rect x="1380.2" y="1019.1" width="221.2" height="149.7" fill="#fff" stroke="#000" stroke-width="2.3"/>
<path d="M1380.94,1168.6Q1399,1046.4 1417.06,1027.6L1439.91,1168.6M1439.91,1168.6Q1453.74,1069.9 1467.56,1027.6L1490.04,1168.6M1490.04,1168.6Q1503.68,1079.3 1517.32,1027.6L1540.54,1168.6M1540.54,1168.6Q1553.81,1084 1567.08,1027.6L1590.3,1168.6" fill="none" stroke="#000" stroke-width="2" stroke-linejoin="round" stroke-linecap="round" />
<path d="M1382.04,1168.6L1409.69,1027.6L1435.49,1168.6L1462.4,1027.6L1488.2,1168.6L1514.74,1027.6L1540.54,1168.6L1566.34,1027.6L1592.51,1168.6" fill="none" stroke="#3fa9f5" stroke-width="2.3" stroke-linejoin="round" />
<line x1="1379.1" y1="1027.7" x2="1376.5" y2="1027.7" stroke="#000" stroke-width="2" />
<line x1="1379.1" y1="1074.7" x2="1376.5" y2="1074.7" stroke="#000" stroke-width="2" />
<line x1="1379.1" y1="1121.7" x2="1376.5" y2="1121.7" stroke="#000" stroke-width="2" />
<line x1="1379.1" y1="1168.6" x2="1376.5" y2="1168.6" stroke="#000" stroke-width="2" />
<line x1="1380.2" y1="1169.9" x2="1380.2" y2="1172.5" stroke="#000" stroke-width="2" />
<line x1="1417.06" y1="1169.9" x2="1417.06" y2="1172.5" stroke="#000" stroke-width="2" />
<line x1="1453.92" y1="1169.9" x2="1453.92" y2="1172.5" stroke="#000" stroke-width="2" />
<line x1="1490.78" y1="1169.9" x2="1490.78" y2="1172.5" stroke="#000" stroke-width="2" />
<line x1="1527.64" y1="1169.9" x2="1527.64" y2="1172.5" stroke="#000" stroke-width="2" />
<line x1="1564.5" y1="1169.9" x2="1564.5" y2="1172.5" stroke="#000" stroke-width="2" />
<line x1="1601.36" y1="1169.9" x2="1601.36" y2="1172.5" stroke="#000" stroke-width="2" />
<line x1="1398.63" y1="1169.9" x2="1398.63" y2="1171.2" stroke="#000" stroke-width="1.6" />
<line x1="1435.49" y1="1169.9" x2="1435.49" y2="1171.2" stroke="#000" stroke-width="1.6" />
<line x1="1472.35" y1="1169.9" x2="1472.35" y2="1171.2" stroke="#000" stroke-width="1.6" />
<line x1="1509.21" y1="1169.9" x2="1509.21" y2="1171.2" stroke="#000" stroke-width="1.6" />
<line x1="1546.07" y1="1169.9" x2="1546.07" y2="1171.2" stroke="#000" stroke-width="1.6" />
<line x1="1582.93" y1="1169.9" x2="1582.93" y2="1171.2" stroke="#000" stroke-width="1.6" />
<text transform="translate(1376.5 1036.3) scale(0.98 0.95)" font-size="27.53" text-anchor="end" fill="#000" stroke="#000" stroke-width="0.6" font-weight="bold" >1.5</text>
<text transform="translate(1376.5 1083.3) scale(0.98 0.95)" font-size="27.53" text-anchor="end" fill="#000" stroke="#000" stroke-width="0.6" font-weight="bold" >1.0</text>
<text transform="translate(1376.5 1130.3) scale(0.98 0.95)" font-size="27.53" text-anchor="end" fill="#000" stroke="#000" stroke-width="0.6" font-weight="bold" >0.5</text>
<text transform="translate(1376.5 1177.2) scale(0.98 0.95)" font-size="27.53" text-anchor="end" fill="#000" stroke="#000" stroke-width="0.6" font-weight="bold" >0.0</text>
<text transform="translate(1380.2 1193.7) scale(0.98 0.95)" font-size="27.53" text-anchor="middle" fill="#000" stroke="#000" stroke-width="0.6" font-weight="bold" >0</text>
<text transform="translate(1417.06 1193.7) scale(0.98 0.95)" font-size="27.53" text-anchor="middle" fill="#000" stroke="#000" stroke-width="0.6" font-weight="bold" >1</text>
<text transform="translate(1453.92 1193.7) scale(0.98 0.95)" font-size="27.53" text-anchor="middle" fill="#000" stroke="#000" stroke-width="0.6" font-weight="bold" >2</text>
<text transform="translate(1490.78 1193.7) scale(0.98 0.95)" font-size="27.53" text-anchor="middle" fill="#000" stroke="#000" stroke-width="0.6" font-weight="bold" >3</text>
<text transform="translate(1527.64 1193.7) scale(0.98 0.95)" font-size="27.53" text-anchor="middle" fill="#000" stroke="#000" stroke-width="0.6" font-weight="bold" >4</text>
<text transform="translate(1564.5 1193.7) scale(0.98 0.95)" font-size="27.53" text-anchor="middle" fill="#000" stroke="#000" stroke-width="0.6" font-weight="bold" >5</text>
<text transform="translate(1601.36 1193.7) scale(0.98 0.95)" font-size="27.53" text-anchor="middle" fill="#000" stroke="#000" stroke-width="0.6" font-weight="bold" >6</text>
<text transform="translate(1331.7 1099.4) rotate(-90) scale(0.99 1.0)" font-size="29.53" text-anchor="middle" fill="#000" stroke="#000" stroke-width="0.3" font-weight="bold" >Potential (V)</text>
<text transform="translate(1504.9 1219) scale(0.99 1.0)" font-size="29.08" text-anchor="middle" fill="#000" stroke="#000" stroke-width="0.3" font-weight="bold" >Time (s)</text>
</svg>
</body></html>
